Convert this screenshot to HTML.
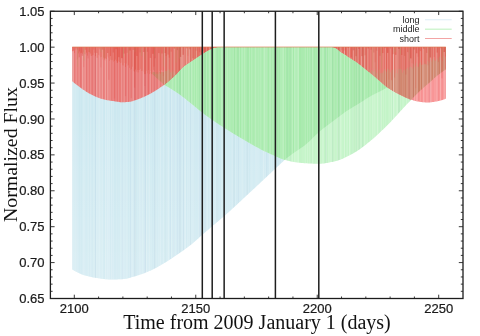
<!DOCTYPE html>
<html><head><meta charset="utf-8"><title>chart</title>
<style>html,body{margin:0;padding:0;background:#fff}svg{display:block}</style>
</head><body>
<svg width="480" height="336" viewBox="0 0 480 336">
<defs>
<clipPath id="cR"><path d="M72.25 47.0 L72.25 81.25 L73.25 82.09 L74.25 82.93 L75.25 83.74 L76.25 84.54 L77.25 85.32 L78.25 86.07 L79.25 86.80 L80.25 87.52 L81.25 88.24 L82.25 88.96 L83.25 89.66 L84.25 90.35 L85.25 91.02 L86.25 91.67 L87.25 92.30 L88.25 92.90 L89.25 93.48 L90.25 94.02 L91.25 94.52 L92.25 95.02 L93.25 95.50 L94.25 95.97 L95.25 96.43 L96.25 96.88 L97.25 97.30 L98.25 97.71 L99.25 98.09 L100.25 98.45 L101.25 98.78 L102.25 99.08 L103.25 99.34 L104.25 99.57 L105.25 99.79 L106.25 99.99 L107.25 100.18 L108.25 100.36 L109.25 100.52 L110.25 100.68 L111.25 100.83 L112.25 100.98 L113.25 101.12 L114.25 101.26 L115.25 101.40 L116.25 101.54 L117.25 101.69 L118.25 101.85 L119.25 102.00 L120.25 102.13 L121.25 102.22 L122.25 102.25 L123.25 102.24 L124.25 102.20 L125.25 102.15 L126.25 102.08 L127.25 102.01 L128.25 101.92 L129.25 101.82 L130.25 101.66 L131.25 101.46 L132.25 101.21 L133.25 100.93 L134.25 100.62 L135.25 100.28 L136.25 99.92 L137.25 99.54 L138.25 99.16 L139.25 98.77 L140.25 98.39 L141.25 98.00 L142.25 97.61 L143.25 97.19 L144.25 96.75 L145.25 96.29 L146.25 95.81 L147.25 95.31 L148.25 94.79 L149.25 94.27 L150.25 93.73 L151.25 93.17 L152.25 92.61 L153.25 92.04 L154.25 91.46 L155.25 90.86 L156.25 90.24 L157.25 89.60 L158.25 88.94 L159.25 88.26 L160.25 87.57 L161.25 86.86 L162.25 86.13 L163.25 85.39 L164.25 84.64 L165.25 83.86 L166.25 83.07 L167.25 82.26 L168.25 81.43 L169.25 80.58 L170.25 79.71 L171.25 78.82 L172.25 77.92 L173.25 77.00 L174.25 76.07 L175.25 75.12 L176.25 74.15 L177.25 73.11 L178.25 72.00 L179.25 70.87 L180.25 69.75 L181.25 68.68 L182.25 67.72 L183.25 66.87 L184.25 66.06 L185.25 65.29 L186.25 64.56 L187.25 63.86 L188.25 63.18 L189.25 62.51 L190.25 61.86 L191.25 61.21 L192.25 60.57 L193.25 59.92 L194.25 59.26 L195.25 58.58 L196.25 57.90 L197.25 57.21 L198.25 56.53 L199.25 55.85 L200.25 55.19 L201.25 54.54 L202.25 53.90 L203.25 53.28 L204.25 52.65 L205.25 52.01 L206.25 51.38 L207.25 50.78 L208.25 50.20 L209.25 49.66 L210.25 49.17 L211.25 48.75 L212.25 48.37 L213.25 48.02 L214.25 47.70 L215.25 47.41 L216.25 47.16 L217.00 47.00 Z M332.50 47.0 L332.50 47.00 L333.50 47.26 L334.50 47.63 L335.50 48.08 L336.50 48.59 L337.50 49.22 L338.50 50.05 L339.50 50.95 L340.50 51.78 L341.50 52.46 L342.50 53.05 L343.50 53.61 L344.50 54.19 L345.50 54.83 L346.50 55.52 L347.50 56.23 L348.50 56.93 L349.50 57.59 L350.50 58.20 L351.50 58.80 L352.50 59.40 L353.50 60.03 L354.50 60.69 L355.50 61.37 L356.50 62.08 L357.50 62.80 L358.50 63.54 L359.50 64.30 L360.50 65.07 L361.50 65.85 L362.50 66.64 L363.50 67.44 L364.50 68.26 L365.50 69.07 L366.50 69.89 L367.50 70.72 L368.50 71.55 L369.50 72.37 L370.50 73.20 L371.50 74.02 L372.50 74.84 L373.50 75.66 L374.50 76.50 L375.50 77.35 L376.50 78.22 L377.50 79.10 L378.50 79.98 L379.50 80.86 L380.50 81.74 L381.50 82.61 L382.50 83.47 L383.50 84.31 L384.50 85.13 L385.50 85.94 L386.50 86.71 L387.50 87.45 L388.50 88.16 L389.50 88.83 L390.50 89.47 L391.50 90.10 L392.50 90.70 L393.50 91.29 L394.50 91.87 L395.50 92.43 L396.50 92.97 L397.50 93.50 L398.50 94.02 L399.50 94.53 L400.50 95.03 L401.50 95.52 L402.50 96.00 L403.50 96.48 L404.50 96.96 L405.50 97.44 L406.50 97.90 L407.50 98.35 L408.50 98.77 L409.50 99.16 L410.50 99.51 L411.50 99.82 L412.50 100.12 L413.50 100.40 L414.50 100.67 L415.50 100.92 L416.50 101.16 L417.50 101.38 L418.50 101.58 L419.50 101.76 L420.50 101.91 L421.50 102.03 L422.50 102.14 L423.50 102.25 L424.50 102.35 L425.50 102.43 L426.50 102.48 L427.50 102.50 L428.50 102.48 L429.50 102.43 L430.50 102.34 L431.50 102.23 L432.50 102.10 L433.50 101.95 L434.50 101.78 L435.50 101.61 L436.50 101.43 L437.50 101.25 L438.50 101.05 L439.50 100.82 L440.50 100.55 L441.50 100.26 L442.50 99.94 L443.50 99.60 L444.50 99.24 L445.50 98.86 L445.80 98.75 L445.8 47.0 Z"/></clipPath>
<clipPath id="cB"><path d="M72.25 47.0 L72.25 269.50 L73.25 270.09 L74.25 270.67 L75.25 271.24 L76.25 271.78 L77.25 272.31 L78.25 272.81 L79.25 273.29 L80.25 273.75 L81.25 274.18 L82.25 274.57 L83.25 274.94 L84.25 275.27 L85.25 275.57 L86.25 275.85 L87.25 276.12 L88.25 276.37 L89.25 276.61 L90.25 276.83 L91.25 277.05 L92.25 277.25 L93.25 277.44 L94.25 277.62 L95.25 277.79 L96.25 277.95 L97.25 278.10 L98.25 278.23 L99.25 278.37 L100.25 278.51 L101.25 278.65 L102.25 278.79 L103.25 278.92 L104.25 279.04 L105.25 279.15 L106.25 279.25 L107.25 279.34 L108.25 279.41 L109.25 279.46 L110.25 279.49 L111.25 279.50 L112.25 279.49 L113.25 279.48 L114.25 279.47 L115.25 279.44 L116.25 279.41 L117.25 279.38 L118.25 279.34 L119.25 279.30 L120.25 279.25 L121.25 279.20 L122.25 279.14 L123.25 279.08 L124.25 278.99 L125.25 278.85 L126.25 278.67 L127.25 278.45 L128.25 278.21 L129.25 277.95 L130.25 277.66 L131.25 277.37 L132.25 277.07 L133.25 276.77 L134.25 276.47 L135.25 276.18 L136.25 275.88 L137.25 275.58 L138.25 275.27 L139.25 274.94 L140.25 274.60 L141.25 274.26 L142.25 273.90 L143.25 273.53 L144.25 273.15 L145.25 272.77 L146.25 272.37 L147.25 271.96 L148.25 271.55 L149.25 271.12 L150.25 270.69 L151.25 270.24 L152.25 269.77 L153.25 269.28 L154.25 268.77 L155.25 268.25 L156.25 267.71 L157.25 267.16 L158.25 266.60 L159.25 266.03 L160.25 265.45 L161.25 264.86 L162.25 264.28 L163.25 263.68 L164.25 263.09 L165.25 262.49 L166.25 261.88 L167.25 261.25 L168.25 260.61 L169.25 259.97 L170.25 259.31 L171.25 258.65 L172.25 257.98 L173.25 257.30 L174.25 256.62 L175.25 255.94 L176.25 255.26 L177.25 254.57 L178.25 253.89 L179.25 253.20 L180.25 252.51 L181.25 251.82 L182.25 251.13 L183.25 250.43 L184.25 249.73 L185.25 249.01 L186.25 248.29 L187.25 247.56 L188.25 246.81 L189.25 246.05 L190.25 245.28 L191.25 244.48 L192.25 243.66 L193.25 242.82 L194.25 241.96 L195.25 241.08 L196.25 240.19 L197.25 239.29 L198.25 238.39 L199.25 237.49 L200.25 236.60 L201.25 235.71 L202.25 234.83 L203.25 233.96 L204.25 233.10 L205.25 232.23 L206.25 231.37 L207.25 230.50 L208.25 229.64 L209.25 228.78 L210.25 227.92 L211.25 227.06 L212.25 226.21 L213.25 225.36 L214.25 224.51 L215.25 223.67 L216.25 222.83 L217.25 221.99 L218.25 221.15 L219.25 220.31 L220.25 219.47 L221.25 218.62 L222.25 217.77 L223.25 216.90 L224.25 216.03 L225.25 215.15 L226.25 214.26 L227.25 213.37 L228.25 212.47 L229.25 211.57 L230.25 210.66 L231.25 209.75 L232.25 208.83 L233.25 207.91 L234.25 206.99 L235.25 206.06 L236.25 205.13 L237.25 204.20 L238.25 203.27 L239.25 202.34 L240.25 201.41 L241.25 200.48 L242.25 199.55 L243.25 198.62 L244.25 197.69 L245.25 196.77 L246.25 195.84 L247.25 194.91 L248.25 193.98 L249.25 193.05 L250.25 192.12 L251.25 191.19 L252.25 190.25 L253.25 189.32 L254.25 188.38 L255.25 187.45 L256.25 186.51 L257.25 185.57 L258.25 184.63 L259.25 183.70 L260.25 182.76 L261.25 181.82 L262.25 180.88 L263.25 179.94 L264.25 179.01 L265.25 178.07 L266.25 177.13 L267.25 176.20 L268.25 175.26 L269.25 174.33 L270.25 173.39 L271.25 172.46 L272.25 171.53 L273.25 170.60 L274.25 169.68 L275.25 168.75 L276.25 167.82 L277.25 166.87 L278.25 165.92 L279.25 164.97 L280.25 164.02 L281.25 163.07 L282.25 162.13 L283.25 161.20 L284.25 160.29 L285.25 159.40 L286.25 158.54 L287.25 157.70 L288.25 156.90 L289.25 156.13 L290.25 155.38 L291.25 154.66 L292.25 153.95 L293.25 153.26 L294.25 152.58 L295.25 151.91 L296.25 151.25 L297.25 150.59 L298.25 149.92 L299.25 149.25 L300.25 148.57 L301.25 147.87 L302.25 147.16 L303.25 146.44 L304.25 145.68 L305.25 144.90 L306.25 144.09 L307.25 143.24 L308.25 142.35 L309.25 141.42 L310.25 140.46 L311.25 139.49 L312.25 138.50 L313.25 137.51 L314.25 136.52 L315.25 135.53 L316.25 134.57 L317.25 133.63 L318.25 132.72 L319.25 131.84 L320.25 131.00 L321.25 130.17 L322.25 129.36 L323.25 128.56 L324.25 127.78 L325.25 127.00 L326.25 126.23 L327.25 125.47 L328.25 124.72 L329.25 123.97 L330.25 123.23 L331.25 122.49 L332.25 121.75 L333.25 121.01 L334.25 120.28 L335.25 119.53 L336.25 118.79 L337.25 118.04 L338.25 117.28 L339.25 116.52 L340.25 115.75 L341.25 114.98 L342.25 114.22 L343.25 113.47 L344.25 112.73 L345.25 112.02 L346.25 111.33 L347.25 110.67 L348.25 110.02 L349.25 109.39 L350.25 108.77 L351.25 108.16 L352.25 107.56 L353.25 106.96 L354.25 106.36 L355.25 105.77 L356.25 105.17 L357.25 104.57 L358.25 103.95 L359.25 103.33 L360.25 102.70 L361.25 102.06 L362.25 101.42 L363.25 100.78 L364.25 100.14 L365.25 99.50 L366.25 98.86 L367.25 98.24 L368.25 97.62 L369.25 97.02 L370.25 96.43 L371.25 95.86 L372.25 95.30 L373.25 94.75 L374.25 94.22 L375.25 93.69 L376.25 93.17 L377.25 92.66 L378.25 92.15 L379.25 91.64 L380.25 91.14 L381.25 90.64 L382.25 90.13 L383.25 89.63 L384.25 89.12 L385.25 88.62 L386.25 88.12 L387.25 87.62 L388.25 87.12 L389.25 86.63 L390.25 86.13 L391.25 85.63 L392.25 85.14 L393.25 84.64 L394.25 84.15 L395.25 83.66 L396.25 83.16 L397.25 82.67 L398.25 82.18 L399.25 81.69 L400.25 81.20 L401.25 80.71 L402.25 80.22 L403.25 79.73 L404.25 79.24 L405.25 78.74 L406.25 78.25 L407.25 77.75 L408.25 77.25 L409.25 76.75 L410.25 76.25 L411.25 75.76 L412.25 75.27 L413.25 74.78 L414.25 74.30 L415.25 73.83 L416.25 73.36 L417.25 72.91 L418.25 72.46 L419.25 72.02 L420.25 71.59 L421.25 71.17 L422.25 70.76 L423.25 70.35 L424.25 69.95 L425.25 69.56 L426.25 69.17 L427.25 68.78 L428.25 68.40 L429.25 68.02 L430.25 67.64 L431.25 67.26 L432.25 66.89 L433.25 66.52 L434.25 66.15 L435.25 65.78 L436.25 65.41 L437.25 65.04 L438.25 64.67 L439.25 64.31 L440.25 63.95 L441.25 63.59 L442.25 63.24 L443.25 62.89 L444.25 62.54 L445.25 62.19 L445.80 62.00 L445.8 47.0 Z"/></clipPath>
<clipPath id="cG"><path d="M164.10 47.0 L164.10 84.75 L165.10 85.31 L166.10 85.87 L167.10 86.44 L168.10 87.02 L169.10 87.60 L170.10 88.19 L171.10 88.79 L172.10 89.41 L173.10 90.03 L174.10 90.66 L175.10 91.31 L176.10 91.97 L177.10 92.64 L178.10 93.33 L179.10 94.04 L180.10 94.76 L181.10 95.50 L182.10 96.25 L183.10 97.01 L184.10 97.78 L185.10 98.56 L186.10 99.35 L187.10 100.14 L188.10 100.95 L189.10 101.76 L190.10 102.57 L191.10 103.39 L192.10 104.21 L193.10 105.03 L194.10 105.85 L195.10 106.68 L196.10 107.50 L197.10 108.32 L198.10 109.13 L199.10 109.94 L200.10 110.74 L201.10 111.54 L202.10 112.33 L203.10 113.12 L204.10 113.89 L205.10 114.65 L206.10 115.40 L207.10 116.14 L208.10 116.86 L209.10 117.57 L210.10 118.27 L211.10 118.97 L212.10 119.66 L213.10 120.35 L214.10 121.03 L215.10 121.71 L216.10 122.38 L217.10 123.05 L218.10 123.72 L219.10 124.38 L220.10 125.04 L221.10 125.70 L222.10 126.35 L223.10 126.99 L224.10 127.64 L225.10 128.28 L226.10 128.91 L227.10 129.54 L228.10 130.17 L229.10 130.80 L230.10 131.42 L231.10 132.04 L232.10 132.66 L233.10 133.27 L234.10 133.88 L235.10 134.48 L236.10 135.08 L237.10 135.68 L238.10 136.28 L239.10 136.88 L240.10 137.47 L241.10 138.07 L242.10 138.66 L243.10 139.26 L244.10 139.85 L245.10 140.44 L246.10 141.03 L247.10 141.62 L248.10 142.21 L249.10 142.79 L250.10 143.37 L251.10 143.94 L252.10 144.51 L253.10 145.08 L254.10 145.64 L255.10 146.20 L256.10 146.75 L257.10 147.29 L258.10 147.83 L259.10 148.36 L260.10 148.89 L261.10 149.40 L262.10 149.91 L263.10 150.41 L264.10 150.90 L265.10 151.38 L266.10 151.86 L267.10 152.32 L268.10 152.77 L269.10 153.23 L270.10 153.69 L271.10 154.16 L272.10 154.62 L273.10 155.09 L274.10 155.55 L275.10 156.00 L276.10 156.45 L277.10 156.90 L278.10 157.33 L279.10 157.75 L280.10 158.17 L281.10 158.56 L282.10 158.95 L283.10 159.31 L284.10 159.66 L285.10 159.99 L286.10 160.29 L287.10 160.58 L288.10 160.83 L289.10 161.07 L290.10 161.27 L291.10 161.46 L292.10 161.64 L293.10 161.82 L294.10 161.99 L295.10 162.15 L296.10 162.30 L297.10 162.45 L298.10 162.59 L299.10 162.71 L300.10 162.83 L301.10 162.94 L302.10 163.03 L303.10 163.12 L304.10 163.19 L305.10 163.26 L306.10 163.31 L307.10 163.37 L308.10 163.42 L309.10 163.47 L310.10 163.52 L311.10 163.56 L312.10 163.61 L313.10 163.64 L314.10 163.68 L315.10 163.70 L316.10 163.72 L317.10 163.74 L318.10 163.75 L319.10 163.75 L320.10 163.72 L321.10 163.67 L322.10 163.60 L323.10 163.50 L324.10 163.38 L325.10 163.24 L326.10 163.09 L327.10 162.92 L328.10 162.73 L329.10 162.54 L330.10 162.33 L331.10 162.12 L332.10 161.90 L333.10 161.68 L334.10 161.45 L335.10 161.23 L336.10 160.98 L337.10 160.70 L338.10 160.40 L339.10 160.06 L340.10 159.70 L341.10 159.31 L342.10 158.90 L343.10 158.47 L344.10 158.02 L345.10 157.55 L346.10 157.07 L347.10 156.58 L348.10 156.07 L349.10 155.55 L350.10 155.03 L351.10 154.50 L352.10 153.96 L353.10 153.42 L354.10 152.86 L355.10 152.26 L356.10 151.64 L357.10 150.99 L358.10 150.33 L359.10 149.64 L360.10 148.93 L361.10 148.21 L362.10 147.47 L363.10 146.71 L364.10 145.94 L365.10 145.17 L366.10 144.38 L367.10 143.58 L368.10 142.78 L369.10 141.98 L370.10 141.17 L371.10 140.35 L372.10 139.51 L373.10 138.66 L374.10 137.79 L375.10 136.90 L376.10 136.00 L377.10 135.09 L378.10 134.17 L379.10 133.23 L380.10 132.28 L381.10 131.32 L382.10 130.36 L383.10 129.38 L384.10 128.40 L385.10 127.41 L386.10 126.42 L387.10 125.42 L388.10 124.41 L389.10 123.41 L390.10 122.40 L391.10 121.38 L392.10 120.33 L393.10 119.28 L394.10 118.20 L395.10 117.11 L396.10 116.02 L397.10 114.91 L398.10 113.80 L399.10 112.69 L400.10 111.59 L401.10 110.48 L402.10 109.38 L403.10 108.29 L404.10 107.21 L405.10 106.14 L406.10 105.09 L407.10 104.04 L408.10 102.99 L409.10 101.95 L410.10 100.92 L411.10 99.90 L412.10 98.87 L413.10 97.85 L414.10 96.82 L415.10 95.80 L416.10 94.79 L417.10 93.78 L418.10 92.78 L419.10 91.80 L420.10 90.84 L421.10 89.89 L422.10 88.97 L423.10 88.06 L424.10 87.18 L425.10 86.31 L426.10 85.45 L427.10 84.60 L428.10 83.74 L429.10 82.88 L430.10 82.01 L431.10 81.13 L432.10 80.23 L433.10 79.30 L434.10 78.37 L435.10 77.47 L436.10 76.62 L437.10 75.80 L438.10 75.00 L439.10 74.22 L440.10 73.45 L441.10 72.71 L442.10 71.98 L443.10 71.27 L444.10 70.59 L445.10 69.94 L445.80 69.50 L445.8 47.0 Z"/></clipPath>
<clipPath id="cD"><path d="M72.25 47.0 L72.25 269.50 L73.25 270.09 L74.25 270.67 L75.25 271.24 L76.25 271.78 L77.25 272.31 L78.25 272.81 L79.25 273.29 L80.25 273.75 L81.25 274.18 L82.25 274.57 L83.25 274.94 L84.25 275.27 L85.25 275.57 L86.25 275.85 L87.25 276.12 L88.25 276.37 L89.25 276.61 L90.25 276.83 L91.25 277.05 L92.25 277.25 L93.25 277.44 L94.25 277.62 L95.25 277.79 L96.25 277.95 L97.25 278.10 L98.25 278.23 L99.25 278.37 L100.25 278.51 L101.25 278.65 L102.25 278.79 L103.25 278.92 L104.25 279.04 L105.25 279.15 L106.25 279.25 L107.25 279.34 L108.25 279.41 L109.25 279.46 L110.25 279.49 L111.25 279.50 L112.25 279.49 L113.25 279.48 L114.25 279.47 L115.25 279.44 L116.25 279.41 L117.25 279.38 L118.25 279.34 L119.25 279.30 L120.25 279.25 L121.25 279.20 L122.25 279.14 L123.25 279.08 L124.25 278.99 L125.25 278.85 L126.25 278.67 L127.25 278.45 L128.25 278.21 L129.25 277.95 L130.25 277.66 L131.25 277.37 L132.25 277.07 L133.25 276.77 L134.25 276.47 L135.25 276.18 L136.25 275.88 L137.25 275.58 L138.25 275.27 L139.25 274.94 L140.25 274.60 L141.25 274.26 L142.25 273.90 L143.25 273.53 L144.25 273.15 L145.25 272.77 L146.25 272.37 L147.25 271.96 L148.25 271.55 L149.25 271.12 L150.25 270.69 L151.25 270.24 L152.25 269.77 L153.25 269.28 L154.25 268.77 L155.25 268.25 L156.25 267.71 L157.25 267.16 L158.25 266.60 L159.25 266.03 L160.25 265.45 L161.25 264.86 L162.25 264.28 L163.25 263.68 L164.25 263.09 L165.25 262.49 L166.25 261.88 L167.25 261.25 L168.25 260.61 L169.25 259.97 L170.25 259.31 L171.25 258.65 L172.25 257.98 L173.25 257.30 L174.25 256.62 L175.25 255.94 L176.25 255.26 L177.25 254.57 L178.25 253.89 L179.25 253.20 L180.25 252.51 L181.25 251.82 L182.25 251.13 L183.25 250.43 L184.25 249.73 L185.25 249.01 L186.25 248.29 L187.25 247.56 L188.25 246.81 L189.25 246.05 L190.25 245.28 L191.25 244.48 L192.25 243.66 L193.25 242.82 L194.25 241.96 L195.25 241.08 L196.25 240.19 L197.25 239.29 L198.25 238.39 L199.25 237.49 L200.25 236.60 L201.25 235.71 L202.25 234.83 L203.25 233.96 L204.25 233.10 L205.25 232.23 L206.25 231.37 L207.25 230.50 L208.25 229.64 L209.25 228.78 L210.25 227.92 L211.25 227.06 L212.25 226.21 L213.25 225.36 L214.25 224.51 L215.25 223.67 L216.25 222.83 L217.25 221.99 L218.25 221.15 L219.25 220.31 L220.25 219.47 L221.25 218.62 L222.25 217.77 L223.25 216.90 L224.25 216.03 L225.25 215.15 L226.25 214.26 L227.25 213.37 L228.25 212.47 L229.25 211.57 L230.25 210.66 L231.25 209.75 L232.25 208.83 L233.25 207.91 L234.25 206.99 L235.25 206.06 L236.25 205.13 L237.25 204.20 L238.25 203.27 L239.25 202.34 L240.25 201.41 L241.25 200.48 L242.25 199.55 L243.25 198.62 L244.25 197.69 L245.25 196.77 L246.25 195.84 L247.25 194.91 L248.25 193.98 L249.25 193.05 L250.25 192.12 L251.25 191.19 L252.25 190.25 L253.25 189.32 L254.25 188.38 L255.25 187.45 L256.25 186.51 L257.25 185.57 L258.25 184.63 L259.25 183.70 L260.25 182.76 L261.25 181.82 L262.25 180.88 L263.25 179.94 L264.25 179.01 L265.25 178.07 L266.25 177.13 L267.25 176.20 L268.25 175.26 L269.25 174.33 L270.25 173.39 L271.25 172.46 L272.25 171.53 L273.25 170.60 L274.25 169.68 L275.25 168.75 L276.25 167.82 L277.25 166.87 L278.25 165.92 L279.25 164.97 L280.25 164.02 L281.25 163.07 L282.25 162.13 L283.25 161.20 L284.25 160.29 L285.25 159.40 L286.25 158.54 L287.25 157.70 L288.25 156.90 L289.25 156.13 L290.25 155.38 L291.25 154.66 L292.25 153.95 L293.25 153.26 L294.25 152.58 L295.25 151.91 L296.25 151.25 L297.25 150.59 L298.25 149.92 L299.25 149.25 L300.25 148.57 L301.25 147.87 L302.25 147.16 L303.25 146.44 L304.25 145.68 L305.25 144.90 L306.25 144.09 L307.25 143.24 L308.25 142.35 L309.25 141.42 L310.25 140.46 L311.25 139.49 L312.25 138.50 L313.25 137.51 L314.25 136.52 L315.25 135.53 L316.25 134.57 L317.25 133.63 L318.25 132.72 L319.25 131.84 L320.25 131.00 L321.25 130.17 L322.25 129.36 L323.25 128.56 L324.25 127.78 L325.25 127.00 L326.25 126.23 L327.25 125.47 L328.25 124.72 L329.25 123.97 L330.25 123.23 L331.25 122.49 L332.25 121.75 L333.25 121.01 L334.25 120.28 L335.25 119.53 L336.25 118.79 L337.25 118.04 L338.25 117.28 L339.25 116.52 L340.25 115.75 L341.25 114.98 L342.25 114.22 L343.25 113.47 L344.25 112.73 L345.25 112.02 L346.25 111.33 L347.25 110.67 L348.25 110.02 L349.25 109.39 L350.25 108.77 L351.25 108.16 L352.25 107.56 L353.25 106.96 L354.25 106.36 L355.25 105.77 L356.25 105.17 L357.25 104.57 L358.25 103.95 L359.25 103.33 L360.25 102.70 L361.25 102.06 L362.25 101.42 L363.25 100.78 L364.25 100.14 L365.25 99.50 L366.25 98.86 L367.25 98.24 L368.25 97.62 L369.25 97.02 L370.25 96.43 L371.25 95.86 L372.25 95.30 L373.25 94.75 L374.25 94.22 L375.25 93.69 L376.25 93.17 L377.25 92.66 L378.25 92.15 L379.25 91.64 L380.25 91.14 L381.25 90.64 L382.25 90.13 L383.25 89.63 L384.25 89.12 L385.25 88.62 L386.25 88.12 L387.25 87.62 L388.25 87.12 L389.25 86.63 L390.25 86.13 L391.25 85.63 L392.25 85.14 L393.25 84.64 L394.25 84.15 L395.25 83.66 L396.25 83.16 L397.25 82.67 L398.25 82.18 L399.25 81.69 L400.25 81.20 L401.25 80.71 L402.25 80.22 L403.25 79.73 L404.25 79.24 L405.25 78.74 L406.25 78.25 L407.25 77.75 L408.25 77.25 L409.25 76.75 L410.25 76.25 L411.25 75.76 L412.25 75.27 L413.25 74.78 L414.25 74.30 L415.25 73.83 L416.25 73.36 L417.25 72.91 L418.25 72.46 L419.25 72.02 L420.25 71.59 L421.25 71.17 L422.25 70.76 L423.25 70.35 L424.25 69.95 L425.25 69.56 L426.25 69.17 L427.25 68.78 L428.25 68.40 L429.25 68.02 L430.25 67.64 L431.25 67.26 L432.25 66.89 L433.25 66.52 L434.25 66.15 L435.25 65.78 L436.25 65.41 L437.25 65.04 L438.25 64.67 L439.25 64.31 L440.25 63.95 L441.25 63.59 L442.25 63.24 L443.25 62.89 L444.25 62.54 L445.25 62.19 L445.80 62.00 L445.8 47.0 Z M164.10 47.0 L164.10 84.75 L165.10 85.31 L166.10 85.87 L167.10 86.44 L168.10 87.02 L169.10 87.60 L170.10 88.19 L171.10 88.79 L172.10 89.41 L173.10 90.03 L174.10 90.66 L175.10 91.31 L176.10 91.97 L177.10 92.64 L178.10 93.33 L179.10 94.04 L180.10 94.76 L181.10 95.50 L182.10 96.25 L183.10 97.01 L184.10 97.78 L185.10 98.56 L186.10 99.35 L187.10 100.14 L188.10 100.95 L189.10 101.76 L190.10 102.57 L191.10 103.39 L192.10 104.21 L193.10 105.03 L194.10 105.85 L195.10 106.68 L196.10 107.50 L197.10 108.32 L198.10 109.13 L199.10 109.94 L200.10 110.74 L201.10 111.54 L202.10 112.33 L203.10 113.12 L204.10 113.89 L205.10 114.65 L206.10 115.40 L207.10 116.14 L208.10 116.86 L209.10 117.57 L210.10 118.27 L211.10 118.97 L212.10 119.66 L213.10 120.35 L214.10 121.03 L215.10 121.71 L216.10 122.38 L217.10 123.05 L218.10 123.72 L219.10 124.38 L220.10 125.04 L221.10 125.70 L222.10 126.35 L223.10 126.99 L224.10 127.64 L225.10 128.28 L226.10 128.91 L227.10 129.54 L228.10 130.17 L229.10 130.80 L230.10 131.42 L231.10 132.04 L232.10 132.66 L233.10 133.27 L234.10 133.88 L235.10 134.48 L236.10 135.08 L237.10 135.68 L238.10 136.28 L239.10 136.88 L240.10 137.47 L241.10 138.07 L242.10 138.66 L243.10 139.26 L244.10 139.85 L245.10 140.44 L246.10 141.03 L247.10 141.62 L248.10 142.21 L249.10 142.79 L250.10 143.37 L251.10 143.94 L252.10 144.51 L253.10 145.08 L254.10 145.64 L255.10 146.20 L256.10 146.75 L257.10 147.29 L258.10 147.83 L259.10 148.36 L260.10 148.89 L261.10 149.40 L262.10 149.91 L263.10 150.41 L264.10 150.90 L265.10 151.38 L266.10 151.86 L267.10 152.32 L268.10 152.77 L269.10 153.23 L270.10 153.69 L271.10 154.16 L272.10 154.62 L273.10 155.09 L274.10 155.55 L275.10 156.00 L276.10 156.45 L277.10 156.90 L278.10 157.33 L279.10 157.75 L280.10 158.17 L281.10 158.56 L282.10 158.95 L283.10 159.31 L284.10 159.66 L285.10 159.99 L286.10 160.29 L287.10 160.58 L288.10 160.83 L289.10 161.07 L290.10 161.27 L291.10 161.46 L292.10 161.64 L293.10 161.82 L294.10 161.99 L295.10 162.15 L296.10 162.30 L297.10 162.45 L298.10 162.59 L299.10 162.71 L300.10 162.83 L301.10 162.94 L302.10 163.03 L303.10 163.12 L304.10 163.19 L305.10 163.26 L306.10 163.31 L307.10 163.37 L308.10 163.42 L309.10 163.47 L310.10 163.52 L311.10 163.56 L312.10 163.61 L313.10 163.64 L314.10 163.68 L315.10 163.70 L316.10 163.72 L317.10 163.74 L318.10 163.75 L319.10 163.75 L320.10 163.72 L321.10 163.67 L322.10 163.60 L323.10 163.50 L324.10 163.38 L325.10 163.24 L326.10 163.09 L327.10 162.92 L328.10 162.73 L329.10 162.54 L330.10 162.33 L331.10 162.12 L332.10 161.90 L333.10 161.68 L334.10 161.45 L335.10 161.23 L336.10 160.98 L337.10 160.70 L338.10 160.40 L339.10 160.06 L340.10 159.70 L341.10 159.31 L342.10 158.90 L343.10 158.47 L344.10 158.02 L345.10 157.55 L346.10 157.07 L347.10 156.58 L348.10 156.07 L349.10 155.55 L350.10 155.03 L351.10 154.50 L352.10 153.96 L353.10 153.42 L354.10 152.86 L355.10 152.26 L356.10 151.64 L357.10 150.99 L358.10 150.33 L359.10 149.64 L360.10 148.93 L361.10 148.21 L362.10 147.47 L363.10 146.71 L364.10 145.94 L365.10 145.17 L366.10 144.38 L367.10 143.58 L368.10 142.78 L369.10 141.98 L370.10 141.17 L371.10 140.35 L372.10 139.51 L373.10 138.66 L374.10 137.79 L375.10 136.90 L376.10 136.00 L377.10 135.09 L378.10 134.17 L379.10 133.23 L380.10 132.28 L381.10 131.32 L382.10 130.36 L383.10 129.38 L384.10 128.40 L385.10 127.41 L386.10 126.42 L387.10 125.42 L388.10 124.41 L389.10 123.41 L390.10 122.40 L391.10 121.38 L392.10 120.33 L393.10 119.28 L394.10 118.20 L395.10 117.11 L396.10 116.02 L397.10 114.91 L398.10 113.80 L399.10 112.69 L400.10 111.59 L401.10 110.48 L402.10 109.38 L403.10 108.29 L404.10 107.21 L405.10 106.14 L406.10 105.09 L407.10 104.04 L408.10 102.99 L409.10 101.95 L410.10 100.92 L411.10 99.90 L412.10 98.87 L413.10 97.85 L414.10 96.82 L415.10 95.80 L416.10 94.79 L417.10 93.78 L418.10 92.78 L419.10 91.80 L420.10 90.84 L421.10 89.89 L422.10 88.97 L423.10 88.06 L424.10 87.18 L425.10 86.31 L426.10 85.45 L427.10 84.60 L428.10 83.74 L429.10 82.88 L430.10 82.01 L431.10 81.13 L432.10 80.23 L433.10 79.30 L434.10 78.37 L435.10 77.47 L436.10 76.62 L437.10 75.80 L438.10 75.00 L439.10 74.22 L440.10 73.45 L441.10 72.71 L442.10 71.98 L443.10 71.27 L444.10 70.59 L445.10 69.94 L445.80 69.50 L445.8 47.0 Z M72.25 47.0 L72.25 81.25 L73.25 82.09 L74.25 82.93 L75.25 83.74 L76.25 84.54 L77.25 85.32 L78.25 86.07 L79.25 86.80 L80.25 87.52 L81.25 88.24 L82.25 88.96 L83.25 89.66 L84.25 90.35 L85.25 91.02 L86.25 91.67 L87.25 92.30 L88.25 92.90 L89.25 93.48 L90.25 94.02 L91.25 94.52 L92.25 95.02 L93.25 95.50 L94.25 95.97 L95.25 96.43 L96.25 96.88 L97.25 97.30 L98.25 97.71 L99.25 98.09 L100.25 98.45 L101.25 98.78 L102.25 99.08 L103.25 99.34 L104.25 99.57 L105.25 99.79 L106.25 99.99 L107.25 100.18 L108.25 100.36 L109.25 100.52 L110.25 100.68 L111.25 100.83 L112.25 100.98 L113.25 101.12 L114.25 101.26 L115.25 101.40 L116.25 101.54 L117.25 101.69 L118.25 101.85 L119.25 102.00 L120.25 102.13 L121.25 102.22 L122.25 102.25 L123.25 102.24 L124.25 102.20 L125.25 102.15 L126.25 102.08 L127.25 102.01 L128.25 101.92 L129.25 101.82 L130.25 101.66 L131.25 101.46 L132.25 101.21 L133.25 100.93 L134.25 100.62 L135.25 100.28 L136.25 99.92 L137.25 99.54 L138.25 99.16 L139.25 98.77 L140.25 98.39 L141.25 98.00 L142.25 97.61 L143.25 97.19 L144.25 96.75 L145.25 96.29 L146.25 95.81 L147.25 95.31 L148.25 94.79 L149.25 94.27 L150.25 93.73 L151.25 93.17 L152.25 92.61 L153.25 92.04 L154.25 91.46 L155.25 90.86 L156.25 90.24 L157.25 89.60 L158.25 88.94 L159.25 88.26 L160.25 87.57 L161.25 86.86 L162.25 86.13 L163.25 85.39 L164.25 84.64 L165.25 83.86 L166.25 83.07 L167.25 82.26 L168.25 81.43 L169.25 80.58 L170.25 79.71 L171.25 78.82 L172.25 77.92 L173.25 77.00 L174.25 76.07 L175.25 75.12 L176.25 74.15 L177.25 73.11 L178.25 72.00 L179.25 70.87 L180.25 69.75 L181.25 68.68 L182.25 67.72 L183.25 66.87 L184.25 66.06 L185.25 65.29 L186.25 64.56 L187.25 63.86 L188.25 63.18 L189.25 62.51 L190.25 61.86 L191.25 61.21 L192.25 60.57 L193.25 59.92 L194.25 59.26 L195.25 58.58 L196.25 57.90 L197.25 57.21 L198.25 56.53 L199.25 55.85 L200.25 55.19 L201.25 54.54 L202.25 53.90 L203.25 53.28 L204.25 52.65 L205.25 52.01 L206.25 51.38 L207.25 50.78 L208.25 50.20 L209.25 49.66 L210.25 49.17 L211.25 48.75 L212.25 48.37 L213.25 48.02 L214.25 47.70 L215.25 47.41 L216.25 47.16 L217.00 47.00 Z M332.50 47.0 L332.50 47.00 L333.50 47.26 L334.50 47.63 L335.50 48.08 L336.50 48.59 L337.50 49.22 L338.50 50.05 L339.50 50.95 L340.50 51.78 L341.50 52.46 L342.50 53.05 L343.50 53.61 L344.50 54.19 L345.50 54.83 L346.50 55.52 L347.50 56.23 L348.50 56.93 L349.50 57.59 L350.50 58.20 L351.50 58.80 L352.50 59.40 L353.50 60.03 L354.50 60.69 L355.50 61.37 L356.50 62.08 L357.50 62.80 L358.50 63.54 L359.50 64.30 L360.50 65.07 L361.50 65.85 L362.50 66.64 L363.50 67.44 L364.50 68.26 L365.50 69.07 L366.50 69.89 L367.50 70.72 L368.50 71.55 L369.50 72.37 L370.50 73.20 L371.50 74.02 L372.50 74.84 L373.50 75.66 L374.50 76.50 L375.50 77.35 L376.50 78.22 L377.50 79.10 L378.50 79.98 L379.50 80.86 L380.50 81.74 L381.50 82.61 L382.50 83.47 L383.50 84.31 L384.50 85.13 L385.50 85.94 L386.50 86.71 L387.50 87.45 L388.50 88.16 L389.50 88.83 L390.50 89.47 L391.50 90.10 L392.50 90.70 L393.50 91.29 L394.50 91.87 L395.50 92.43 L396.50 92.97 L397.50 93.50 L398.50 94.02 L399.50 94.53 L400.50 95.03 L401.50 95.52 L402.50 96.00 L403.50 96.48 L404.50 96.96 L405.50 97.44 L406.50 97.90 L407.50 98.35 L408.50 98.77 L409.50 99.16 L410.50 99.51 L411.50 99.82 L412.50 100.12 L413.50 100.40 L414.50 100.67 L415.50 100.92 L416.50 101.16 L417.50 101.38 L418.50 101.58 L419.50 101.76 L420.50 101.91 L421.50 102.03 L422.50 102.14 L423.50 102.25 L424.50 102.35 L425.50 102.43 L426.50 102.48 L427.50 102.50 L428.50 102.48 L429.50 102.43 L430.50 102.34 L431.50 102.23 L432.50 102.10 L433.50 101.95 L434.50 101.78 L435.50 101.61 L436.50 101.43 L437.50 101.25 L438.50 101.05 L439.50 100.82 L440.50 100.55 L441.50 100.26 L442.50 99.94 L443.50 99.60 L444.50 99.24 L445.50 98.86 L445.80 98.75 L445.8 47.0 Z"/></clipPath>
<filter id="bl" x="-5%" y="-5%" width="110%" height="110%"><feGaussianBlur stdDeviation="0.55 0"/></filter>
<linearGradient id="bg" x1="0" y1="0" x2="0" y2="1"><stop offset="0" stop-color="#fff" stop-opacity="0"/><stop offset="1" stop-color="#fff" stop-opacity="0.2"/></linearGradient>
</defs>
<rect width="480" height="336" fill="#fff"/>
<path d="M72.25 47.0 L72.25 269.50 L73.25 270.09 L74.25 270.67 L75.25 271.24 L76.25 271.78 L77.25 272.31 L78.25 272.81 L79.25 273.29 L80.25 273.75 L81.25 274.18 L82.25 274.57 L83.25 274.94 L84.25 275.27 L85.25 275.57 L86.25 275.85 L87.25 276.12 L88.25 276.37 L89.25 276.61 L90.25 276.83 L91.25 277.05 L92.25 277.25 L93.25 277.44 L94.25 277.62 L95.25 277.79 L96.25 277.95 L97.25 278.10 L98.25 278.23 L99.25 278.37 L100.25 278.51 L101.25 278.65 L102.25 278.79 L103.25 278.92 L104.25 279.04 L105.25 279.15 L106.25 279.25 L107.25 279.34 L108.25 279.41 L109.25 279.46 L110.25 279.49 L111.25 279.50 L112.25 279.49 L113.25 279.48 L114.25 279.47 L115.25 279.44 L116.25 279.41 L117.25 279.38 L118.25 279.34 L119.25 279.30 L120.25 279.25 L121.25 279.20 L122.25 279.14 L123.25 279.08 L124.25 278.99 L125.25 278.85 L126.25 278.67 L127.25 278.45 L128.25 278.21 L129.25 277.95 L130.25 277.66 L131.25 277.37 L132.25 277.07 L133.25 276.77 L134.25 276.47 L135.25 276.18 L136.25 275.88 L137.25 275.58 L138.25 275.27 L139.25 274.94 L140.25 274.60 L141.25 274.26 L142.25 273.90 L143.25 273.53 L144.25 273.15 L145.25 272.77 L146.25 272.37 L147.25 271.96 L148.25 271.55 L149.25 271.12 L150.25 270.69 L151.25 270.24 L152.25 269.77 L153.25 269.28 L154.25 268.77 L155.25 268.25 L156.25 267.71 L157.25 267.16 L158.25 266.60 L159.25 266.03 L160.25 265.45 L161.25 264.86 L162.25 264.28 L163.25 263.68 L164.25 263.09 L165.25 262.49 L166.25 261.88 L167.25 261.25 L168.25 260.61 L169.25 259.97 L170.25 259.31 L171.25 258.65 L172.25 257.98 L173.25 257.30 L174.25 256.62 L175.25 255.94 L176.25 255.26 L177.25 254.57 L178.25 253.89 L179.25 253.20 L180.25 252.51 L181.25 251.82 L182.25 251.13 L183.25 250.43 L184.25 249.73 L185.25 249.01 L186.25 248.29 L187.25 247.56 L188.25 246.81 L189.25 246.05 L190.25 245.28 L191.25 244.48 L192.25 243.66 L193.25 242.82 L194.25 241.96 L195.25 241.08 L196.25 240.19 L197.25 239.29 L198.25 238.39 L199.25 237.49 L200.25 236.60 L201.25 235.71 L202.25 234.83 L203.25 233.96 L204.25 233.10 L205.25 232.23 L206.25 231.37 L207.25 230.50 L208.25 229.64 L209.25 228.78 L210.25 227.92 L211.25 227.06 L212.25 226.21 L213.25 225.36 L214.25 224.51 L215.25 223.67 L216.25 222.83 L217.25 221.99 L218.25 221.15 L219.25 220.31 L220.25 219.47 L221.25 218.62 L222.25 217.77 L223.25 216.90 L224.25 216.03 L225.25 215.15 L226.25 214.26 L227.25 213.37 L228.25 212.47 L229.25 211.57 L230.25 210.66 L231.25 209.75 L232.25 208.83 L233.25 207.91 L234.25 206.99 L235.25 206.06 L236.25 205.13 L237.25 204.20 L238.25 203.27 L239.25 202.34 L240.25 201.41 L241.25 200.48 L242.25 199.55 L243.25 198.62 L244.25 197.69 L245.25 196.77 L246.25 195.84 L247.25 194.91 L248.25 193.98 L249.25 193.05 L250.25 192.12 L251.25 191.19 L252.25 190.25 L253.25 189.32 L254.25 188.38 L255.25 187.45 L256.25 186.51 L257.25 185.57 L258.25 184.63 L259.25 183.70 L260.25 182.76 L261.25 181.82 L262.25 180.88 L263.25 179.94 L264.25 179.01 L265.25 178.07 L266.25 177.13 L267.25 176.20 L268.25 175.26 L269.25 174.33 L270.25 173.39 L271.25 172.46 L272.25 171.53 L273.25 170.60 L274.25 169.68 L275.25 168.75 L276.25 167.82 L277.25 166.87 L278.25 165.92 L279.25 164.97 L280.25 164.02 L281.25 163.07 L282.25 162.13 L283.25 161.20 L284.25 160.29 L285.25 159.40 L286.25 158.54 L287.25 157.70 L288.25 156.90 L289.25 156.13 L290.25 155.38 L291.25 154.66 L292.25 153.95 L293.25 153.26 L294.25 152.58 L295.25 151.91 L296.25 151.25 L297.25 150.59 L298.25 149.92 L299.25 149.25 L300.25 148.57 L301.25 147.87 L302.25 147.16 L303.25 146.44 L304.25 145.68 L305.25 144.90 L306.25 144.09 L307.25 143.24 L308.25 142.35 L309.25 141.42 L310.25 140.46 L311.25 139.49 L312.25 138.50 L313.25 137.51 L314.25 136.52 L315.25 135.53 L316.25 134.57 L317.25 133.63 L318.25 132.72 L319.25 131.84 L320.25 131.00 L321.25 130.17 L322.25 129.36 L323.25 128.56 L324.25 127.78 L325.25 127.00 L326.25 126.23 L327.25 125.47 L328.25 124.72 L329.25 123.97 L330.25 123.23 L331.25 122.49 L332.25 121.75 L333.25 121.01 L334.25 120.28 L335.25 119.53 L336.25 118.79 L337.25 118.04 L338.25 117.28 L339.25 116.52 L340.25 115.75 L341.25 114.98 L342.25 114.22 L343.25 113.47 L344.25 112.73 L345.25 112.02 L346.25 111.33 L347.25 110.67 L348.25 110.02 L349.25 109.39 L350.25 108.77 L351.25 108.16 L352.25 107.56 L353.25 106.96 L354.25 106.36 L355.25 105.77 L356.25 105.17 L357.25 104.57 L358.25 103.95 L359.25 103.33 L360.25 102.70 L361.25 102.06 L362.25 101.42 L363.25 100.78 L364.25 100.14 L365.25 99.50 L366.25 98.86 L367.25 98.24 L368.25 97.62 L369.25 97.02 L370.25 96.43 L371.25 95.86 L372.25 95.30 L373.25 94.75 L374.25 94.22 L375.25 93.69 L376.25 93.17 L377.25 92.66 L378.25 92.15 L379.25 91.64 L380.25 91.14 L381.25 90.64 L382.25 90.13 L383.25 89.63 L384.25 89.12 L385.25 88.62 L386.25 88.12 L387.25 87.62 L388.25 87.12 L389.25 86.63 L390.25 86.13 L391.25 85.63 L392.25 85.14 L393.25 84.64 L394.25 84.15 L395.25 83.66 L396.25 83.16 L397.25 82.67 L398.25 82.18 L399.25 81.69 L400.25 81.20 L401.25 80.71 L402.25 80.22 L403.25 79.73 L404.25 79.24 L405.25 78.74 L406.25 78.25 L407.25 77.75 L408.25 77.25 L409.25 76.75 L410.25 76.25 L411.25 75.76 L412.25 75.27 L413.25 74.78 L414.25 74.30 L415.25 73.83 L416.25 73.36 L417.25 72.91 L418.25 72.46 L419.25 72.02 L420.25 71.59 L421.25 71.17 L422.25 70.76 L423.25 70.35 L424.25 69.95 L425.25 69.56 L426.25 69.17 L427.25 68.78 L428.25 68.40 L429.25 68.02 L430.25 67.64 L431.25 67.26 L432.25 66.89 L433.25 66.52 L434.25 66.15 L435.25 65.78 L436.25 65.41 L437.25 65.04 L438.25 64.67 L439.25 64.31 L440.25 63.95 L441.25 63.59 L442.25 63.24 L443.25 62.89 L444.25 62.54 L445.25 62.19 L445.80 62.00 L445.8 47.0 Z" fill="#cce8f0"/>
<g clip-path="url(#cB)"><rect x="70" y="105" width="260" height="176" fill="url(#bg)"/></g>
<g clip-path="url(#cB)"><g filter="url(#bl)">
<rect x="72.8" y="46" width="1" height="240" fill="#fff" opacity="0.10"/>
<rect x="75.0" y="46" width="1" height="240" fill="#fff" opacity="0.11"/>
<rect x="76.8" y="46" width="1" height="240" fill="#fff" opacity="0.06"/>
<rect x="80.0" y="46" width="1" height="240" fill="#fff" opacity="0.06"/>
<rect x="83.2" y="46" width="1" height="240" fill="#fff" opacity="0.06"/>
<rect x="86.4" y="46" width="1" height="240" fill="#fff" opacity="0.08"/>
<rect x="88.2" y="46" width="1" height="240" fill="#fff" opacity="0.12"/>
<rect x="90.0" y="46" width="1" height="240" fill="#fff" opacity="0.09"/>
<rect x="93.2" y="46" width="1" height="240" fill="#fff" opacity="0.11"/>
<rect x="96.4" y="46" width="1" height="240" fill="#fff" opacity="0.07"/>
<rect x="98.6" y="46" width="1" height="240" fill="#fff" opacity="0.14"/>
<rect x="101.8" y="46" width="1" height="240" fill="#fff" opacity="0.19"/>
<rect x="105.0" y="46" width="1" height="240" fill="#fff" opacity="0.14"/>
<rect x="106.8" y="46" width="1" height="240" fill="#fff" opacity="0.20"/>
<rect x="108.6" y="46" width="1" height="240" fill="#fff" opacity="0.13"/>
<rect x="110.8" y="46" width="1" height="240" fill="#fff" opacity="0.09"/>
<rect x="113.0" y="46" width="1" height="240" fill="#fff" opacity="0.13"/>
<rect x="116.2" y="46" width="1" height="240" fill="#fff" opacity="0.10"/>
<rect x="118.4" y="46" width="1" height="240" fill="#fff" opacity="0.07"/>
<rect x="121.6" y="46" width="1" height="240" fill="#fff" opacity="0.15"/>
<rect x="124.0" y="46" width="1" height="240" fill="#fff" opacity="0.06"/>
<rect x="125.8" y="46" width="1" height="240" fill="#fff" opacity="0.13"/>
<rect x="129.0" y="46" width="1" height="240" fill="#fff" opacity="0.08"/>
<rect x="132.2" y="46" width="1" height="240" fill="#fff" opacity="0.11"/>
<rect x="134.6" y="46" width="1" height="240" fill="#fff" opacity="0.12"/>
<rect x="137.2" y="46" width="1" height="240" fill="#fff" opacity="0.10"/>
<rect x="139.4" y="46" width="1" height="240" fill="#fff" opacity="0.17"/>
<rect x="141.6" y="46" width="1" height="240" fill="#fff" opacity="0.06"/>
<rect x="144.0" y="46" width="1" height="240" fill="#fff" opacity="0.13"/>
<rect x="146.4" y="46" width="1" height="240" fill="#fff" opacity="0.16"/>
<rect x="148.8" y="46" width="1" height="240" fill="#fff" opacity="0.14"/>
<rect x="150.6" y="46" width="1" height="240" fill="#fff" opacity="0.07"/>
<rect x="153.2" y="46" width="1" height="240" fill="#fff" opacity="0.07"/>
<rect x="155.6" y="46" width="1" height="240" fill="#fff" opacity="0.07"/>
<rect x="158.2" y="46" width="1" height="240" fill="#fff" opacity="0.11"/>
<rect x="160.0" y="46" width="1" height="240" fill="#fff" opacity="0.16"/>
<rect x="163.2" y="46" width="1" height="240" fill="#fff" opacity="0.17"/>
<rect x="165.6" y="46" width="1" height="240" fill="#fff" opacity="0.10"/>
<rect x="168.0" y="46" width="1" height="240" fill="#fff" opacity="0.14"/>
<rect x="171.2" y="46" width="1" height="240" fill="#fff" opacity="0.17"/>
<rect x="173.0" y="46" width="1" height="240" fill="#fff" opacity="0.18"/>
<rect x="175.4" y="46" width="1" height="240" fill="#fff" opacity="0.12"/>
<rect x="177.2" y="46" width="1" height="240" fill="#fff" opacity="0.06"/>
<rect x="179.6" y="46" width="1" height="240" fill="#fff" opacity="0.15"/>
<rect x="182.2" y="46" width="1" height="240" fill="#fff" opacity="0.09"/>
<rect x="184.8" y="46" width="1" height="240" fill="#fff" opacity="0.18"/>
<rect x="187.2" y="46" width="1" height="240" fill="#fff" opacity="0.05"/>
<rect x="189.8" y="46" width="1" height="240" fill="#fff" opacity="0.10"/>
<rect x="193.0" y="46" width="1" height="240" fill="#fff" opacity="0.07"/>
<rect x="194.8" y="46" width="1" height="240" fill="#fff" opacity="0.08"/>
<rect x="197.2" y="46" width="1" height="240" fill="#fff" opacity="0.07"/>
<rect x="199.4" y="46" width="1" height="240" fill="#fff" opacity="0.11"/>
<rect x="202.0" y="46" width="1" height="240" fill="#fff" opacity="0.06"/>
<rect x="204.6" y="46" width="1" height="240" fill="#fff" opacity="0.11"/>
<rect x="207.0" y="46" width="1" height="240" fill="#fff" opacity="0.18"/>
<rect x="209.6" y="46" width="1" height="240" fill="#fff" opacity="0.18"/>
<rect x="212.0" y="46" width="1" height="240" fill="#fff" opacity="0.16"/>
<rect x="214.4" y="46" width="1" height="240" fill="#fff" opacity="0.15"/>
<rect x="217.0" y="46" width="1" height="240" fill="#fff" opacity="0.19"/>
<rect x="219.2" y="46" width="1" height="240" fill="#fff" opacity="0.06"/>
<rect x="221.4" y="46" width="1" height="240" fill="#fff" opacity="0.08"/>
<rect x="223.6" y="46" width="1" height="240" fill="#fff" opacity="0.05"/>
<rect x="226.8" y="46" width="1" height="240" fill="#fff" opacity="0.08"/>
<rect x="229.2" y="46" width="1" height="240" fill="#fff" opacity="0.05"/>
<rect x="231.8" y="46" width="1" height="240" fill="#fff" opacity="0.13"/>
<rect x="235.0" y="46" width="1" height="240" fill="#fff" opacity="0.13"/>
<rect x="237.2" y="46" width="1" height="240" fill="#fff" opacity="0.15"/>
<rect x="240.4" y="46" width="1" height="240" fill="#fff" opacity="0.19"/>
<rect x="242.2" y="46" width="1" height="240" fill="#fff" opacity="0.12"/>
<rect x="245.4" y="46" width="1" height="240" fill="#fff" opacity="0.11"/>
<rect x="248.0" y="46" width="1" height="240" fill="#fff" opacity="0.11"/>
<rect x="250.6" y="46" width="1" height="240" fill="#fff" opacity="0.15"/>
<rect x="252.4" y="46" width="1" height="240" fill="#fff" opacity="0.08"/>
<rect x="254.6" y="46" width="1" height="240" fill="#fff" opacity="0.12"/>
<rect x="256.4" y="46" width="1" height="240" fill="#fff" opacity="0.10"/>
<rect x="258.2" y="46" width="1" height="240" fill="#fff" opacity="0.07"/>
<rect x="261.4" y="46" width="1" height="240" fill="#fff" opacity="0.07"/>
<rect x="263.2" y="46" width="1" height="240" fill="#fff" opacity="0.19"/>
<rect x="266.4" y="46" width="1" height="240" fill="#fff" opacity="0.05"/>
<rect x="268.6" y="46" width="1" height="240" fill="#fff" opacity="0.14"/>
<rect x="270.8" y="46" width="1" height="240" fill="#fff" opacity="0.15"/>
<rect x="273.2" y="46" width="1" height="240" fill="#fff" opacity="0.14"/>
<rect x="275.8" y="46" width="1" height="240" fill="#fff" opacity="0.07"/>
<rect x="278.4" y="46" width="1" height="240" fill="#fff" opacity="0.20"/>
<rect x="281.0" y="46" width="1" height="240" fill="#fff" opacity="0.12"/>
<rect x="283.4" y="46" width="1" height="240" fill="#fff" opacity="0.06"/>
<rect x="285.2" y="46" width="1" height="240" fill="#fff" opacity="0.16"/>
<rect x="287.6" y="46" width="1" height="240" fill="#fff" opacity="0.12"/>
<rect x="289.8" y="46" width="1" height="240" fill="#fff" opacity="0.13"/>
<rect x="292.0" y="46" width="1" height="240" fill="#fff" opacity="0.19"/>
<rect x="295.2" y="46" width="1" height="240" fill="#fff" opacity="0.10"/>
<rect x="298.4" y="46" width="1" height="240" fill="#fff" opacity="0.19"/>
<rect x="301.6" y="46" width="1" height="240" fill="#fff" opacity="0.09"/>
<rect x="303.4" y="46" width="1" height="240" fill="#fff" opacity="0.15"/>
<rect x="305.8" y="46" width="1" height="240" fill="#fff" opacity="0.13"/>
<rect x="308.0" y="46" width="1" height="240" fill="#fff" opacity="0.10"/>
<rect x="310.2" y="46" width="1" height="240" fill="#fff" opacity="0.13"/>
<rect x="313.4" y="46" width="1" height="240" fill="#fff" opacity="0.10"/>
<rect x="315.6" y="46" width="1" height="240" fill="#fff" opacity="0.14"/>
<rect x="317.8" y="46" width="1" height="240" fill="#fff" opacity="0.17"/>
<rect x="320.4" y="46" width="1" height="240" fill="#fff" opacity="0.16"/>
<rect x="322.6" y="46" width="1" height="240" fill="#fff" opacity="0.08"/>
<rect x="325.2" y="46" width="1" height="240" fill="#fff" opacity="0.10"/>
<rect x="327.0" y="46" width="1" height="240" fill="#fff" opacity="0.20"/>
<rect x="329.4" y="46" width="1" height="240" fill="#fff" opacity="0.12"/>
</g></g>
<path d="M164.10 47.0 L164.10 84.75 L165.10 85.31 L166.10 85.87 L167.10 86.44 L168.10 87.02 L169.10 87.60 L170.10 88.19 L171.10 88.79 L172.10 89.41 L173.10 90.03 L174.10 90.66 L175.10 91.31 L176.10 91.97 L177.10 92.64 L178.10 93.33 L179.10 94.04 L180.10 94.76 L181.10 95.50 L182.10 96.25 L183.10 97.01 L184.10 97.78 L185.10 98.56 L186.10 99.35 L187.10 100.14 L188.10 100.95 L189.10 101.76 L190.10 102.57 L191.10 103.39 L192.10 104.21 L193.10 105.03 L194.10 105.85 L195.10 106.68 L196.10 107.50 L197.10 108.32 L198.10 109.13 L199.10 109.94 L200.10 110.74 L201.10 111.54 L202.10 112.33 L203.10 113.12 L204.10 113.89 L205.10 114.65 L206.10 115.40 L207.10 116.14 L208.10 116.86 L209.10 117.57 L210.10 118.27 L211.10 118.97 L212.10 119.66 L213.10 120.35 L214.10 121.03 L215.10 121.71 L216.10 122.38 L217.10 123.05 L218.10 123.72 L219.10 124.38 L220.10 125.04 L221.10 125.70 L222.10 126.35 L223.10 126.99 L224.10 127.64 L225.10 128.28 L226.10 128.91 L227.10 129.54 L228.10 130.17 L229.10 130.80 L230.10 131.42 L231.10 132.04 L232.10 132.66 L233.10 133.27 L234.10 133.88 L235.10 134.48 L236.10 135.08 L237.10 135.68 L238.10 136.28 L239.10 136.88 L240.10 137.47 L241.10 138.07 L242.10 138.66 L243.10 139.26 L244.10 139.85 L245.10 140.44 L246.10 141.03 L247.10 141.62 L248.10 142.21 L249.10 142.79 L250.10 143.37 L251.10 143.94 L252.10 144.51 L253.10 145.08 L254.10 145.64 L255.10 146.20 L256.10 146.75 L257.10 147.29 L258.10 147.83 L259.10 148.36 L260.10 148.89 L261.10 149.40 L262.10 149.91 L263.10 150.41 L264.10 150.90 L265.10 151.38 L266.10 151.86 L267.10 152.32 L268.10 152.77 L269.10 153.23 L270.10 153.69 L271.10 154.16 L272.10 154.62 L273.10 155.09 L274.10 155.55 L275.10 156.00 L276.10 156.45 L277.10 156.90 L278.10 157.33 L279.10 157.75 L280.10 158.17 L281.10 158.56 L282.10 158.95 L283.10 159.31 L284.10 159.66 L285.10 159.99 L286.10 160.29 L287.10 160.58 L288.10 160.83 L289.10 161.07 L290.10 161.27 L291.10 161.46 L292.10 161.64 L293.10 161.82 L294.10 161.99 L295.10 162.15 L296.10 162.30 L297.10 162.45 L298.10 162.59 L299.10 162.71 L300.10 162.83 L301.10 162.94 L302.10 163.03 L303.10 163.12 L304.10 163.19 L305.10 163.26 L306.10 163.31 L307.10 163.37 L308.10 163.42 L309.10 163.47 L310.10 163.52 L311.10 163.56 L312.10 163.61 L313.10 163.64 L314.10 163.68 L315.10 163.70 L316.10 163.72 L317.10 163.74 L318.10 163.75 L319.10 163.75 L320.10 163.72 L321.10 163.67 L322.10 163.60 L323.10 163.50 L324.10 163.38 L325.10 163.24 L326.10 163.09 L327.10 162.92 L328.10 162.73 L329.10 162.54 L330.10 162.33 L331.10 162.12 L332.10 161.90 L333.10 161.68 L334.10 161.45 L335.10 161.23 L336.10 160.98 L337.10 160.70 L338.10 160.40 L339.10 160.06 L340.10 159.70 L341.10 159.31 L342.10 158.90 L343.10 158.47 L344.10 158.02 L345.10 157.55 L346.10 157.07 L347.10 156.58 L348.10 156.07 L349.10 155.55 L350.10 155.03 L351.10 154.50 L352.10 153.96 L353.10 153.42 L354.10 152.86 L355.10 152.26 L356.10 151.64 L357.10 150.99 L358.10 150.33 L359.10 149.64 L360.10 148.93 L361.10 148.21 L362.10 147.47 L363.10 146.71 L364.10 145.94 L365.10 145.17 L366.10 144.38 L367.10 143.58 L368.10 142.78 L369.10 141.98 L370.10 141.17 L371.10 140.35 L372.10 139.51 L373.10 138.66 L374.10 137.79 L375.10 136.90 L376.10 136.00 L377.10 135.09 L378.10 134.17 L379.10 133.23 L380.10 132.28 L381.10 131.32 L382.10 130.36 L383.10 129.38 L384.10 128.40 L385.10 127.41 L386.10 126.42 L387.10 125.42 L388.10 124.41 L389.10 123.41 L390.10 122.40 L391.10 121.38 L392.10 120.33 L393.10 119.28 L394.10 118.20 L395.10 117.11 L396.10 116.02 L397.10 114.91 L398.10 113.80 L399.10 112.69 L400.10 111.59 L401.10 110.48 L402.10 109.38 L403.10 108.29 L404.10 107.21 L405.10 106.14 L406.10 105.09 L407.10 104.04 L408.10 102.99 L409.10 101.95 L410.10 100.92 L411.10 99.90 L412.10 98.87 L413.10 97.85 L414.10 96.82 L415.10 95.80 L416.10 94.79 L417.10 93.78 L418.10 92.78 L419.10 91.80 L420.10 90.84 L421.10 89.89 L422.10 88.97 L423.10 88.06 L424.10 87.18 L425.10 86.31 L426.10 85.45 L427.10 84.60 L428.10 83.74 L429.10 82.88 L430.10 82.01 L431.10 81.13 L432.10 80.23 L433.10 79.30 L434.10 78.37 L435.10 77.47 L436.10 76.62 L437.10 75.80 L438.10 75.00 L439.10 74.22 L440.10 73.45 L441.10 72.71 L442.10 71.98 L443.10 71.27 L444.10 70.59 L445.10 69.94 L445.80 69.50 L445.8 47.0 Z" fill="#c3f4c7"/>
<g clip-path="url(#cB)"><path d="M164.10 47.0 L164.10 84.75 L165.10 85.31 L166.10 85.87 L167.10 86.44 L168.10 87.02 L169.10 87.60 L170.10 88.19 L171.10 88.79 L172.10 89.41 L173.10 90.03 L174.10 90.66 L175.10 91.31 L176.10 91.97 L177.10 92.64 L178.10 93.33 L179.10 94.04 L180.10 94.76 L181.10 95.50 L182.10 96.25 L183.10 97.01 L184.10 97.78 L185.10 98.56 L186.10 99.35 L187.10 100.14 L188.10 100.95 L189.10 101.76 L190.10 102.57 L191.10 103.39 L192.10 104.21 L193.10 105.03 L194.10 105.85 L195.10 106.68 L196.10 107.50 L197.10 108.32 L198.10 109.13 L199.10 109.94 L200.10 110.74 L201.10 111.54 L202.10 112.33 L203.10 113.12 L204.10 113.89 L205.10 114.65 L206.10 115.40 L207.10 116.14 L208.10 116.86 L209.10 117.57 L210.10 118.27 L211.10 118.97 L212.10 119.66 L213.10 120.35 L214.10 121.03 L215.10 121.71 L216.10 122.38 L217.10 123.05 L218.10 123.72 L219.10 124.38 L220.10 125.04 L221.10 125.70 L222.10 126.35 L223.10 126.99 L224.10 127.64 L225.10 128.28 L226.10 128.91 L227.10 129.54 L228.10 130.17 L229.10 130.80 L230.10 131.42 L231.10 132.04 L232.10 132.66 L233.10 133.27 L234.10 133.88 L235.10 134.48 L236.10 135.08 L237.10 135.68 L238.10 136.28 L239.10 136.88 L240.10 137.47 L241.10 138.07 L242.10 138.66 L243.10 139.26 L244.10 139.85 L245.10 140.44 L246.10 141.03 L247.10 141.62 L248.10 142.21 L249.10 142.79 L250.10 143.37 L251.10 143.94 L252.10 144.51 L253.10 145.08 L254.10 145.64 L255.10 146.20 L256.10 146.75 L257.10 147.29 L258.10 147.83 L259.10 148.36 L260.10 148.89 L261.10 149.40 L262.10 149.91 L263.10 150.41 L264.10 150.90 L265.10 151.38 L266.10 151.86 L267.10 152.32 L268.10 152.77 L269.10 153.23 L270.10 153.69 L271.10 154.16 L272.10 154.62 L273.10 155.09 L274.10 155.55 L275.10 156.00 L276.10 156.45 L277.10 156.90 L278.10 157.33 L279.10 157.75 L280.10 158.17 L281.10 158.56 L282.10 158.95 L283.10 159.31 L284.10 159.66 L285.10 159.99 L286.10 160.29 L287.10 160.58 L288.10 160.83 L289.10 161.07 L290.10 161.27 L291.10 161.46 L292.10 161.64 L293.10 161.82 L294.10 161.99 L295.10 162.15 L296.10 162.30 L297.10 162.45 L298.10 162.59 L299.10 162.71 L300.10 162.83 L301.10 162.94 L302.10 163.03 L303.10 163.12 L304.10 163.19 L305.10 163.26 L306.10 163.31 L307.10 163.37 L308.10 163.42 L309.10 163.47 L310.10 163.52 L311.10 163.56 L312.10 163.61 L313.10 163.64 L314.10 163.68 L315.10 163.70 L316.10 163.72 L317.10 163.74 L318.10 163.75 L319.10 163.75 L320.10 163.72 L321.10 163.67 L322.10 163.60 L323.10 163.50 L324.10 163.38 L325.10 163.24 L326.10 163.09 L327.10 162.92 L328.10 162.73 L329.10 162.54 L330.10 162.33 L331.10 162.12 L332.10 161.90 L333.10 161.68 L334.10 161.45 L335.10 161.23 L336.10 160.98 L337.10 160.70 L338.10 160.40 L339.10 160.06 L340.10 159.70 L341.10 159.31 L342.10 158.90 L343.10 158.47 L344.10 158.02 L345.10 157.55 L346.10 157.07 L347.10 156.58 L348.10 156.07 L349.10 155.55 L350.10 155.03 L351.10 154.50 L352.10 153.96 L353.10 153.42 L354.10 152.86 L355.10 152.26 L356.10 151.64 L357.10 150.99 L358.10 150.33 L359.10 149.64 L360.10 148.93 L361.10 148.21 L362.10 147.47 L363.10 146.71 L364.10 145.94 L365.10 145.17 L366.10 144.38 L367.10 143.58 L368.10 142.78 L369.10 141.98 L370.10 141.17 L371.10 140.35 L372.10 139.51 L373.10 138.66 L374.10 137.79 L375.10 136.90 L376.10 136.00 L377.10 135.09 L378.10 134.17 L379.10 133.23 L380.10 132.28 L381.10 131.32 L382.10 130.36 L383.10 129.38 L384.10 128.40 L385.10 127.41 L386.10 126.42 L387.10 125.42 L388.10 124.41 L389.10 123.41 L390.10 122.40 L391.10 121.38 L392.10 120.33 L393.10 119.28 L394.10 118.20 L395.10 117.11 L396.10 116.02 L397.10 114.91 L398.10 113.80 L399.10 112.69 L400.10 111.59 L401.10 110.48 L402.10 109.38 L403.10 108.29 L404.10 107.21 L405.10 106.14 L406.10 105.09 L407.10 104.04 L408.10 102.99 L409.10 101.95 L410.10 100.92 L411.10 99.90 L412.10 98.87 L413.10 97.85 L414.10 96.82 L415.10 95.80 L416.10 94.79 L417.10 93.78 L418.10 92.78 L419.10 91.80 L420.10 90.84 L421.10 89.89 L422.10 88.97 L423.10 88.06 L424.10 87.18 L425.10 86.31 L426.10 85.45 L427.10 84.60 L428.10 83.74 L429.10 82.88 L430.10 82.01 L431.10 81.13 L432.10 80.23 L433.10 79.30 L434.10 78.37 L435.10 77.47 L436.10 76.62 L437.10 75.80 L438.10 75.00 L439.10 74.22 L440.10 73.45 L441.10 72.71 L442.10 71.98 L443.10 71.27 L444.10 70.59 L445.10 69.94 L445.80 69.50 L445.8 47.0 Z" fill="#a5eaaa"/></g>
<path d="M72.25 47.0 L72.25 81.25 L73.25 82.09 L74.25 82.93 L75.25 83.74 L76.25 84.54 L77.25 85.32 L78.25 86.07 L79.25 86.80 L80.25 87.52 L81.25 88.24 L82.25 88.96 L83.25 89.66 L84.25 90.35 L85.25 91.02 L86.25 91.67 L87.25 92.30 L88.25 92.90 L89.25 93.48 L90.25 94.02 L91.25 94.52 L92.25 95.02 L93.25 95.50 L94.25 95.97 L95.25 96.43 L96.25 96.88 L97.25 97.30 L98.25 97.71 L99.25 98.09 L100.25 98.45 L101.25 98.78 L102.25 99.08 L103.25 99.34 L104.25 99.57 L105.25 99.79 L106.25 99.99 L107.25 100.18 L108.25 100.36 L109.25 100.52 L110.25 100.68 L111.25 100.83 L112.25 100.98 L113.25 101.12 L114.25 101.26 L115.25 101.40 L116.25 101.54 L117.25 101.69 L118.25 101.85 L119.25 102.00 L120.25 102.13 L121.25 102.22 L122.25 102.25 L123.25 102.24 L124.25 102.20 L125.25 102.15 L126.25 102.08 L127.25 102.01 L128.25 101.92 L129.25 101.82 L130.25 101.66 L131.25 101.46 L132.25 101.21 L133.25 100.93 L134.25 100.62 L135.25 100.28 L136.25 99.92 L137.25 99.54 L138.25 99.16 L139.25 98.77 L140.25 98.39 L141.25 98.00 L142.25 97.61 L143.25 97.19 L144.25 96.75 L145.25 96.29 L146.25 95.81 L147.25 95.31 L148.25 94.79 L149.25 94.27 L150.25 93.73 L151.25 93.17 L152.25 92.61 L153.25 92.04 L154.25 91.46 L155.25 90.86 L156.25 90.24 L157.25 89.60 L158.25 88.94 L159.25 88.26 L160.25 87.57 L161.25 86.86 L162.25 86.13 L163.25 85.39 L164.25 84.64 L165.25 83.86 L166.25 83.07 L167.25 82.26 L168.25 81.43 L169.25 80.58 L170.25 79.71 L171.25 78.82 L172.25 77.92 L173.25 77.00 L174.25 76.07 L175.25 75.12 L176.25 74.15 L177.25 73.11 L178.25 72.00 L179.25 70.87 L180.25 69.75 L181.25 68.68 L182.25 67.72 L183.25 66.87 L184.25 66.06 L185.25 65.29 L186.25 64.56 L187.25 63.86 L188.25 63.18 L189.25 62.51 L190.25 61.86 L191.25 61.21 L192.25 60.57 L193.25 59.92 L194.25 59.26 L195.25 58.58 L196.25 57.90 L197.25 57.21 L198.25 56.53 L199.25 55.85 L200.25 55.19 L201.25 54.54 L202.25 53.90 L203.25 53.28 L204.25 52.65 L205.25 52.01 L206.25 51.38 L207.25 50.78 L208.25 50.20 L209.25 49.66 L210.25 49.17 L211.25 48.75 L212.25 48.37 L213.25 48.02 L214.25 47.70 L215.25 47.41 L216.25 47.16 L217.00 47.00 Z" fill="#e77472"/>
<path d="M332.50 47.0 L332.50 47.00 L333.50 47.26 L334.50 47.63 L335.50 48.08 L336.50 48.59 L337.50 49.22 L338.50 50.05 L339.50 50.95 L340.50 51.78 L341.50 52.46 L342.50 53.05 L343.50 53.61 L344.50 54.19 L345.50 54.83 L346.50 55.52 L347.50 56.23 L348.50 56.93 L349.50 57.59 L350.50 58.20 L351.50 58.80 L352.50 59.40 L353.50 60.03 L354.50 60.69 L355.50 61.37 L356.50 62.08 L357.50 62.80 L358.50 63.54 L359.50 64.30 L360.50 65.07 L361.50 65.85 L362.50 66.64 L363.50 67.44 L364.50 68.26 L365.50 69.07 L366.50 69.89 L367.50 70.72 L368.50 71.55 L369.50 72.37 L370.50 73.20 L371.50 74.02 L372.50 74.84 L373.50 75.66 L374.50 76.50 L375.50 77.35 L376.50 78.22 L377.50 79.10 L378.50 79.98 L379.50 80.86 L380.50 81.74 L381.50 82.61 L382.50 83.47 L383.50 84.31 L384.50 85.13 L385.50 85.94 L386.50 86.71 L387.50 87.45 L388.50 88.16 L389.50 88.83 L390.50 89.47 L391.50 90.10 L392.50 90.70 L393.50 91.29 L394.50 91.87 L395.50 92.43 L396.50 92.97 L397.50 93.50 L398.50 94.02 L399.50 94.53 L400.50 95.03 L401.50 95.52 L402.50 96.00 L403.50 96.48 L404.50 96.96 L405.50 97.44 L406.50 97.90 L407.50 98.35 L408.50 98.77 L409.50 99.16 L410.50 99.51 L411.50 99.82 L412.50 100.12 L413.50 100.40 L414.50 100.67 L415.50 100.92 L416.50 101.16 L417.50 101.38 L418.50 101.58 L419.50 101.76 L420.50 101.91 L421.50 102.03 L422.50 102.14 L423.50 102.25 L424.50 102.35 L425.50 102.43 L426.50 102.48 L427.50 102.50 L428.50 102.48 L429.50 102.43 L430.50 102.34 L431.50 102.23 L432.50 102.10 L433.50 101.95 L434.50 101.78 L435.50 101.61 L436.50 101.43 L437.50 101.25 L438.50 101.05 L439.50 100.82 L440.50 100.55 L441.50 100.26 L442.50 99.94 L443.50 99.60 L444.50 99.24 L445.50 98.86 L445.80 98.75 L445.8 47.0 Z" fill="#f78e8f"/>
<g clip-path="url(#cR)"><path d="M164.10 47.0 L164.10 84.75 L165.10 85.31 L166.10 85.87 L167.10 86.44 L168.10 87.02 L169.10 87.60 L170.10 88.19 L171.10 88.79 L172.10 89.41 L173.10 90.03 L174.10 90.66 L175.10 91.31 L176.10 91.97 L177.10 92.64 L178.10 93.33 L179.10 94.04 L180.10 94.76 L181.10 95.50 L182.10 96.25 L183.10 97.01 L184.10 97.78 L185.10 98.56 L186.10 99.35 L187.10 100.14 L188.10 100.95 L189.10 101.76 L190.10 102.57 L191.10 103.39 L192.10 104.21 L193.10 105.03 L194.10 105.85 L195.10 106.68 L196.10 107.50 L197.10 108.32 L198.10 109.13 L199.10 109.94 L200.10 110.74 L201.10 111.54 L202.10 112.33 L203.10 113.12 L204.10 113.89 L205.10 114.65 L206.10 115.40 L207.10 116.14 L208.10 116.86 L209.10 117.57 L210.10 118.27 L211.10 118.97 L212.10 119.66 L213.10 120.35 L214.10 121.03 L215.10 121.71 L216.10 122.38 L217.10 123.05 L218.10 123.72 L219.10 124.38 L220.10 125.04 L221.10 125.70 L222.10 126.35 L223.10 126.99 L224.10 127.64 L225.10 128.28 L226.10 128.91 L227.10 129.54 L228.10 130.17 L229.10 130.80 L230.10 131.42 L231.10 132.04 L232.10 132.66 L233.10 133.27 L234.10 133.88 L235.10 134.48 L236.10 135.08 L237.10 135.68 L238.10 136.28 L239.10 136.88 L240.10 137.47 L241.10 138.07 L242.10 138.66 L243.10 139.26 L244.10 139.85 L245.10 140.44 L246.10 141.03 L247.10 141.62 L248.10 142.21 L249.10 142.79 L250.10 143.37 L251.10 143.94 L252.10 144.51 L253.10 145.08 L254.10 145.64 L255.10 146.20 L256.10 146.75 L257.10 147.29 L258.10 147.83 L259.10 148.36 L260.10 148.89 L261.10 149.40 L262.10 149.91 L263.10 150.41 L264.10 150.90 L265.10 151.38 L266.10 151.86 L267.10 152.32 L268.10 152.77 L269.10 153.23 L270.10 153.69 L271.10 154.16 L272.10 154.62 L273.10 155.09 L274.10 155.55 L275.10 156.00 L276.10 156.45 L277.10 156.90 L278.10 157.33 L279.10 157.75 L280.10 158.17 L281.10 158.56 L282.10 158.95 L283.10 159.31 L284.10 159.66 L285.10 159.99 L286.10 160.29 L287.10 160.58 L288.10 160.83 L289.10 161.07 L290.10 161.27 L291.10 161.46 L292.10 161.64 L293.10 161.82 L294.10 161.99 L295.10 162.15 L296.10 162.30 L297.10 162.45 L298.10 162.59 L299.10 162.71 L300.10 162.83 L301.10 162.94 L302.10 163.03 L303.10 163.12 L304.10 163.19 L305.10 163.26 L306.10 163.31 L307.10 163.37 L308.10 163.42 L309.10 163.47 L310.10 163.52 L311.10 163.56 L312.10 163.61 L313.10 163.64 L314.10 163.68 L315.10 163.70 L316.10 163.72 L317.10 163.74 L318.10 163.75 L319.10 163.75 L320.10 163.72 L321.10 163.67 L322.10 163.60 L323.10 163.50 L324.10 163.38 L325.10 163.24 L326.10 163.09 L327.10 162.92 L328.10 162.73 L329.10 162.54 L330.10 162.33 L331.10 162.12 L332.10 161.90 L333.10 161.68 L334.10 161.45 L335.10 161.23 L336.10 160.98 L337.10 160.70 L338.10 160.40 L339.10 160.06 L340.10 159.70 L341.10 159.31 L342.10 158.90 L343.10 158.47 L344.10 158.02 L345.10 157.55 L346.10 157.07 L347.10 156.58 L348.10 156.07 L349.10 155.55 L350.10 155.03 L351.10 154.50 L352.10 153.96 L353.10 153.42 L354.10 152.86 L355.10 152.26 L356.10 151.64 L357.10 150.99 L358.10 150.33 L359.10 149.64 L360.10 148.93 L361.10 148.21 L362.10 147.47 L363.10 146.71 L364.10 145.94 L365.10 145.17 L366.10 144.38 L367.10 143.58 L368.10 142.78 L369.10 141.98 L370.10 141.17 L371.10 140.35 L372.10 139.51 L373.10 138.66 L374.10 137.79 L375.10 136.90 L376.10 136.00 L377.10 135.09 L378.10 134.17 L379.10 133.23 L380.10 132.28 L381.10 131.32 L382.10 130.36 L383.10 129.38 L384.10 128.40 L385.10 127.41 L386.10 126.42 L387.10 125.42 L388.10 124.41 L389.10 123.41 L390.10 122.40 L391.10 121.38 L392.10 120.33 L393.10 119.28 L394.10 118.20 L395.10 117.11 L396.10 116.02 L397.10 114.91 L398.10 113.80 L399.10 112.69 L400.10 111.59 L401.10 110.48 L402.10 109.38 L403.10 108.29 L404.10 107.21 L405.10 106.14 L406.10 105.09 L407.10 104.04 L408.10 102.99 L409.10 101.95 L410.10 100.92 L411.10 99.90 L412.10 98.87 L413.10 97.85 L414.10 96.82 L415.10 95.80 L416.10 94.79 L417.10 93.78 L418.10 92.78 L419.10 91.80 L420.10 90.84 L421.10 89.89 L422.10 88.97 L423.10 88.06 L424.10 87.18 L425.10 86.31 L426.10 85.45 L427.10 84.60 L428.10 83.74 L429.10 82.88 L430.10 82.01 L431.10 81.13 L432.10 80.23 L433.10 79.30 L434.10 78.37 L435.10 77.47 L436.10 76.62 L437.10 75.80 L438.10 75.00 L439.10 74.22 L440.10 73.45 L441.10 72.71 L442.10 71.98 L443.10 71.27 L444.10 70.59 L445.10 69.94 L445.80 69.50 L445.8 47.0 Z" fill="#cb785d"/></g>
<path d="M150 72 L178 72 L177.10 73.27 L176.10 74.30 L175.10 75.26 L174.10 76.21 L173.10 77.14 L172.10 78.06 L171.10 78.96 L170.10 79.84 L169.10 80.71 L168.10 81.55 L167.10 82.38 L166.10 83.19 L165.10 83.98 L164.10 84.75 Z" fill="#cb785d"/>
<filter id="bl2" x="-5%" y="-5%" width="110%" height="110%"><feGaussianBlur stdDeviation="0.35 0.3"/></filter>
<g clip-path="url(#cR)"><g filter="url(#bl2)">
<rect x="72.0" y="46" width="1.0" height="5.3" fill="#e46258" opacity="0.98"/>
<rect x="73.0" y="46" width="1.0" height="4.2" fill="#e46258" opacity="0.98"/>
<rect x="74.0" y="46" width="1.0" height="7.1" fill="#e46258" opacity="0.98"/>
<rect x="75.0" y="46" width="1.0" height="4.1" fill="#e46258" opacity="0.73"/>
<rect x="76.0" y="46" width="1.0" height="3.6" fill="#e46258" opacity="0.72"/>
<rect x="77.0" y="46" width="1.0" height="3.7" fill="#e46258" opacity="0.87"/>
<rect x="78.0" y="46" width="1.0" height="7.4" fill="#e46258" opacity="0.94"/>
<rect x="79.0" y="46" width="1.0" height="5.5" fill="#e46258" opacity="0.88"/>
<rect x="80.0" y="46" width="1.0" height="7.3" fill="#e46258" opacity="0.68"/>
<rect x="81.0" y="46" width="1.0" height="6.8" fill="#e46258" opacity="0.97"/>
<rect x="82.0" y="46" width="1.0" height="7.7" fill="#e46258" opacity="0.91"/>
<rect x="83.0" y="46" width="1.0" height="6.4" fill="#e46258" opacity="0.71"/>
<rect x="84.0" y="46" width="1.0" height="8.1" fill="#e46258" opacity="0.77"/>
<rect x="85.0" y="46" width="1.0" height="8.4" fill="#e46258" opacity="0.99"/>
<rect x="86.0" y="46" width="1.0" height="6.6" fill="#e46258" opacity="0.79"/>
<rect x="87.0" y="46" width="1.0" height="9.6" fill="#e46258" opacity="0.90"/>
<rect x="88.0" y="46" width="1.0" height="6.0" fill="#e46258" opacity="0.69"/>
<rect x="89.0" y="46" width="1.0" height="6.1" fill="#e46258" opacity="0.97"/>
<rect x="90.0" y="46" width="1.0" height="9.6" fill="#e46258" opacity="0.70"/>
<rect x="91.0" y="46" width="1.0" height="10.0" fill="#e46258" opacity="0.99"/>
<rect x="92.0" y="46" width="1.0" height="9.4" fill="#e46258" opacity="0.77"/>
<rect x="93.0" y="46" width="1.0" height="9.1" fill="#e46258" opacity="0.70"/>
<rect x="94.0" y="46" width="1.0" height="6.7" fill="#e46258" opacity="0.99"/>
<rect x="95.0" y="46" width="1.0" height="10.1" fill="#e46258" opacity="0.83"/>
<rect x="96.0" y="46" width="1.0" height="11.8" fill="#e46258" opacity="0.80"/>
<rect x="97.0" y="46" width="1.0" height="11.8" fill="#e46258" opacity="0.94"/>
<rect x="98.0" y="46" width="1.0" height="8.8" fill="#e46258" opacity="0.74"/>
<rect x="99.0" y="46" width="1.0" height="9.5" fill="#e46258" opacity="0.73"/>
<rect x="100.0" y="46" width="1.0" height="11.3" fill="#e46258" opacity="0.74"/>
<rect x="101.0" y="46" width="1.0" height="10.8" fill="#e46258" opacity="0.70"/>
<rect x="102.0" y="46" width="1.0" height="13.6" fill="#e46258" opacity="0.77"/>
<rect x="103.0" y="46" width="1.0" height="11.6" fill="#e46258" opacity="0.85"/>
<rect x="104.0" y="46" width="1.0" height="14.2" fill="#e46258" opacity="0.80"/>
<rect x="105.0" y="46" width="1.0" height="14.5" fill="#e46258" opacity="0.83"/>
<rect x="106.0" y="46" width="1.0" height="12.9" fill="#e46258" opacity="0.83"/>
<rect x="107.0" y="46" width="1.0" height="10.6" fill="#e46258" opacity="0.80"/>
<rect x="108.0" y="46" width="1.0" height="11.7" fill="#e46258" opacity="0.65"/>
<rect x="109.0" y="46" width="1.0" height="15.0" fill="#e46258" opacity="0.71"/>
<rect x="110.0" y="46" width="1.0" height="13.6" fill="#e46258" opacity="0.90"/>
<rect x="111.0" y="46" width="1.0" height="14.2" fill="#e46258" opacity="0.76"/>
<rect x="112.0" y="46" width="1.0" height="14.2" fill="#e46258" opacity="0.84"/>
<rect x="113.0" y="46" width="1.0" height="15.8" fill="#e46258" opacity="0.69"/>
<rect x="114.0" y="46" width="1.0" height="14.9" fill="#e46258" opacity="0.74"/>
<rect x="115.0" y="46" width="1.0" height="13.7" fill="#e46258" opacity="0.92"/>
<rect x="116.0" y="46" width="1.0" height="15.1" fill="#e46258" opacity="0.85"/>
<rect x="117.0" y="46" width="1.0" height="16.6" fill="#e46258" opacity="0.97"/>
<rect x="118.0" y="46" width="1.0" height="15.3" fill="#e46258" opacity="0.86"/>
<rect x="119.0" y="46" width="1.0" height="15.9" fill="#e46258" opacity="0.83"/>
<rect x="120.0" y="46" width="1.0" height="17.1" fill="#e46258" opacity="0.81"/>
<rect x="121.0" y="46" width="1.0" height="16.7" fill="#e46258" opacity="0.82"/>
<rect x="122.0" y="46" width="1.0" height="19.3" fill="#e46258" opacity="0.89"/>
<rect x="123.0" y="46" width="1.0" height="19.5" fill="#e46258" opacity="0.98"/>
<rect x="124.0" y="46" width="1.0" height="16.9" fill="#e46258" opacity="0.85"/>
<rect x="125.0" y="46" width="1.0" height="20.9" fill="#e46258" opacity="0.94"/>
<rect x="126.0" y="46" width="1.0" height="17.5" fill="#e46258" opacity="0.69"/>
<rect x="127.0" y="46" width="1.0" height="19.6" fill="#e46258" opacity="0.68"/>
<rect x="128.0" y="46" width="1.0" height="19.2" fill="#e46258" opacity="0.68"/>
<rect x="129.0" y="46" width="1.0" height="21.9" fill="#e46258" opacity="0.92"/>
<rect x="130.0" y="46" width="1.0" height="23.6" fill="#e46258" opacity="0.70"/>
<rect x="131.0" y="46" width="1.0" height="23.2" fill="#e46258" opacity="0.88"/>
<rect x="132.0" y="46" width="1.0" height="20.7" fill="#e46258" opacity="0.96"/>
<rect x="133.0" y="46" width="1.0" height="25.2" fill="#e46258" opacity="0.73"/>
<rect x="134.0" y="46" width="1.0" height="25.5" fill="#e46258" opacity="0.79"/>
<rect x="135.0" y="46" width="1.0" height="23.6" fill="#e46258" opacity="1.00"/>
<rect x="136.0" y="46" width="1.0" height="25.7" fill="#e46258" opacity="0.71"/>
<rect x="137.0" y="46" width="1.0" height="24.0" fill="#e46258" opacity="0.83"/>
<rect x="138.0" y="46" width="1.0" height="23.8" fill="#e46258" opacity="0.72"/>
<rect x="139.0" y="46" width="1.0" height="24.0" fill="#e46258" opacity="0.90"/>
<rect x="140.0" y="46" width="1.0" height="22.8" fill="#e46258" opacity="0.84"/>
<rect x="141.0" y="46" width="1.0" height="25.1" fill="#e46258" opacity="0.66"/>
<rect x="142.0" y="46" width="1.0" height="24.7" fill="#e46258" opacity="0.87"/>
<rect x="143.0" y="46" width="1.0" height="25.7" fill="#e46258" opacity="0.67"/>
<rect x="144.0" y="46" width="1.0" height="28.1" fill="#e46258" opacity="0.93"/>
<rect x="145.0" y="46" width="1.0" height="28.1" fill="#e46258" opacity="0.69"/>
<rect x="146.0" y="46" width="1.0" height="24.7" fill="#e46258" opacity="0.66"/>
<rect x="147.0" y="46" width="1.0" height="27.3" fill="#e46258" opacity="0.74"/>
<rect x="148.0" y="46" width="1.0" height="24.1" fill="#e46258" opacity="0.80"/>
<rect x="149.0" y="46" width="1.0" height="28.1" fill="#e46258" opacity="0.94"/>
<rect x="150.0" y="46" width="1.0" height="24.8" fill="#e46258" opacity="0.70"/>
<rect x="151.0" y="46" width="1.0" height="28.1" fill="#e46258" opacity="0.85"/>
<rect x="152.0" y="46" width="1.0" height="27.0" fill="#e46258" opacity="0.68"/>
<rect x="153.0" y="46" width="1.0" height="23.8" fill="#e46258" opacity="0.89"/>
<rect x="154.0" y="46" width="1.0" height="25.6" fill="#e46258" opacity="0.68"/>
<rect x="155.0" y="46" width="1.0" height="28.2" fill="#e46258" opacity="0.87"/>
<rect x="156.0" y="46" width="1.0" height="27.5" fill="#e46258" opacity="0.68"/>
<rect x="157.0" y="46" width="1.0" height="27.8" fill="#e46258" opacity="0.67"/>
<rect x="158.0" y="46" width="1.0" height="27.8" fill="#e46258" opacity="0.81"/>
<rect x="159.0" y="46" width="1.0" height="25.2" fill="#e46258" opacity="0.84"/>
<rect x="160.0" y="46" width="1.0" height="28.1" fill="#e46258" opacity="0.74"/>
<rect x="161.0" y="46" width="1.0" height="24.1" fill="#e46258" opacity="0.83"/>
<rect x="162.0" y="46" width="1.0" height="24.7" fill="#e46258" opacity="0.69"/>
<rect x="163.0" y="46" width="1.0" height="24.3" fill="#e46258" opacity="0.67"/>
<rect x="164.0" y="46" width="1.0" height="24.5" fill="#e46258" opacity="0.76"/>
<rect x="165.0" y="46" width="1.0" height="25.0" fill="#e46258" opacity="0.92"/>
<rect x="166.0" y="46" width="1.0" height="24.9" fill="#e46258" opacity="0.83"/>
<rect x="167.0" y="46" width="1.0" height="24.4" fill="#e46258" opacity="0.77"/>
<rect x="168.0" y="46" width="1.0" height="23.6" fill="#e46258" opacity="0.74"/>
<rect x="169.0" y="46" width="1.0" height="23.6" fill="#e46258" opacity="0.91"/>
<rect x="170.0" y="46" width="1.0" height="26.3" fill="#e46258" opacity="0.72"/>
<rect x="171.0" y="46" width="1.0" height="25.9" fill="#e46258" opacity="0.98"/>
<rect x="172.0" y="46" width="1.0" height="24.0" fill="#e46258" opacity="0.94"/>
<rect x="173.0" y="46" width="1.0" height="25.7" fill="#e46258" opacity="0.82"/>
<rect x="174.0" y="46" width="1.0" height="27.7" fill="#e46258" opacity="0.79"/>
<rect x="175.0" y="46" width="1.0" height="26.0" fill="#e46258" opacity="0.89"/>
<rect x="176.0" y="46" width="1.0" height="28.4" fill="#e46258" opacity="0.77"/>
<rect x="177.0" y="46" width="1.0" height="27.7" fill="#e46258" opacity="0.90"/>
<rect x="178.0" y="46" width="1.0" height="26.7" fill="#e46258" opacity="0.79"/>
<rect x="179.0" y="46" width="1.0" height="25.2" fill="#e46258" opacity="0.67"/>
<rect x="180.0" y="46" width="1.0" height="24.1" fill="#e46258" opacity="0.67"/>
<rect x="181.0" y="46" width="1.0" height="27.2" fill="#e46258" opacity="0.74"/>
<rect x="182.0" y="46" width="1.0" height="24.3" fill="#e46258" opacity="0.68"/>
<rect x="183.0" y="46" width="1.0" height="27.7" fill="#e46258" opacity="0.95"/>
<rect x="184.0" y="46" width="1.0" height="26.9" fill="#e46258" opacity="0.75"/>
<rect x="185.0" y="46" width="1.0" height="24.7" fill="#e46258" opacity="0.75"/>
<rect x="186.0" y="46" width="1.0" height="25.8" fill="#e46258" opacity="0.71"/>
<rect x="187.0" y="46" width="1.0" height="25.7" fill="#e46258" opacity="0.74"/>
<rect x="188.0" y="46" width="1.0" height="28.3" fill="#e46258" opacity="0.99"/>
<rect x="189.0" y="46" width="1.0" height="26.2" fill="#e46258" opacity="0.74"/>
<rect x="190.0" y="46" width="1.0" height="28.3" fill="#e46258" opacity="0.76"/>
<rect x="191.0" y="46" width="1.0" height="25.3" fill="#e46258" opacity="0.65"/>
<rect x="192.0" y="46" width="1.0" height="25.4" fill="#e46258" opacity="0.82"/>
<rect x="193.0" y="46" width="1.0" height="26.0" fill="#e46258" opacity="0.72"/>
<rect x="194.0" y="46" width="1.0" height="26.0" fill="#e46258" opacity="0.65"/>
<rect x="195.0" y="46" width="1.0" height="24.8" fill="#e46258" opacity="0.68"/>
<rect x="196.0" y="46" width="1.0" height="25.5" fill="#e46258" opacity="0.66"/>
<rect x="197.0" y="46" width="1.0" height="23.6" fill="#e46258" opacity="0.76"/>
<rect x="198.0" y="46" width="1.0" height="24.7" fill="#e46258" opacity="0.85"/>
<rect x="199.0" y="46" width="1.0" height="26.1" fill="#e46258" opacity="0.91"/>
<rect x="200.0" y="46" width="1.0" height="26.8" fill="#e46258" opacity="0.90"/>
<rect x="201.0" y="46" width="1.0" height="27.9" fill="#e46258" opacity="0.79"/>
<rect x="202.0" y="46" width="1.0" height="25.1" fill="#e46258" opacity="0.99"/>
<rect x="203.0" y="46" width="1.0" height="24.2" fill="#e46258" opacity="0.90"/>
<rect x="204.0" y="46" width="1.0" height="26.7" fill="#e46258" opacity="0.67"/>
<rect x="205.0" y="46" width="1.0" height="27.7" fill="#e46258" opacity="0.96"/>
<rect x="206.0" y="46" width="1.0" height="26.6" fill="#e46258" opacity="0.91"/>
<rect x="207.0" y="46" width="1.0" height="27.6" fill="#e46258" opacity="0.70"/>
<rect x="208.0" y="46" width="1.0" height="26.1" fill="#e46258" opacity="0.83"/>
<rect x="209.0" y="46" width="1.0" height="27.7" fill="#e46258" opacity="0.93"/>
<rect x="210.0" y="46" width="1.0" height="27.6" fill="#e46258" opacity="0.85"/>
<rect x="211.0" y="46" width="1.0" height="28.0" fill="#e46258" opacity="0.89"/>
<rect x="212.0" y="46" width="1.0" height="27.0" fill="#e46258" opacity="0.73"/>
<rect x="213.0" y="46" width="1.0" height="23.7" fill="#e46258" opacity="0.70"/>
<rect x="214.0" y="46" width="1.0" height="25.3" fill="#e46258" opacity="0.69"/>
<rect x="215.0" y="46" width="1.0" height="27.7" fill="#e46258" opacity="0.85"/>
<rect x="216.0" y="46" width="1.0" height="26.6" fill="#e46258" opacity="0.87"/>
<rect x="217.0" y="46" width="1.0" height="26.9" fill="#e46258" opacity="0.82"/>
<rect x="331.0" y="46" width="1.0" height="22.8" fill="#e46258" opacity="0.93"/>
<rect x="332.0" y="46" width="1.0" height="26.5" fill="#e46258" opacity="0.83"/>
<rect x="333.0" y="46" width="1.0" height="25.5" fill="#e46258" opacity="0.88"/>
<rect x="334.0" y="46" width="1.0" height="23.1" fill="#e46258" opacity="0.91"/>
<rect x="335.0" y="46" width="1.0" height="24.1" fill="#e46258" opacity="0.68"/>
<rect x="336.0" y="46" width="1.0" height="24.1" fill="#e46258" opacity="0.91"/>
<rect x="337.0" y="46" width="1.0" height="23.8" fill="#e46258" opacity="0.91"/>
<rect x="338.0" y="46" width="1.0" height="27.7" fill="#e46258" opacity="0.82"/>
<rect x="339.0" y="46" width="1.0" height="24.7" fill="#e46258" opacity="0.82"/>
<rect x="340.0" y="46" width="1.0" height="26.2" fill="#e46258" opacity="0.92"/>
<rect x="341.0" y="46" width="1.0" height="25.9" fill="#e46258" opacity="0.87"/>
<rect x="342.0" y="46" width="1.0" height="23.2" fill="#e46258" opacity="0.70"/>
<rect x="343.0" y="46" width="1.0" height="24.1" fill="#e46258" opacity="0.91"/>
<rect x="344.0" y="46" width="1.0" height="24.3" fill="#e46258" opacity="0.85"/>
<rect x="345.0" y="46" width="1.0" height="22.8" fill="#e46258" opacity="0.67"/>
<rect x="346.0" y="46" width="1.0" height="24.1" fill="#e46258" opacity="0.89"/>
<rect x="347.0" y="46" width="1.0" height="26.2" fill="#e46258" opacity="0.89"/>
<rect x="348.0" y="46" width="1.0" height="24.2" fill="#e46258" opacity="0.83"/>
<rect x="349.0" y="46" width="1.0" height="25.1" fill="#e46258" opacity="0.81"/>
<rect x="350.0" y="46" width="1.0" height="23.4" fill="#e46258" opacity="0.96"/>
<rect x="351.0" y="46" width="1.0" height="23.8" fill="#e46258" opacity="0.99"/>
<rect x="352.0" y="46" width="1.0" height="27.5" fill="#e46258" opacity="0.66"/>
<rect x="353.0" y="46" width="1.0" height="25.1" fill="#e46258" opacity="0.94"/>
<rect x="354.0" y="46" width="1.0" height="27.6" fill="#e46258" opacity="0.81"/>
<rect x="355.0" y="46" width="1.0" height="24.1" fill="#e46258" opacity="0.72"/>
<rect x="356.0" y="46" width="1.0" height="27.5" fill="#e46258" opacity="0.72"/>
<rect x="357.0" y="46" width="1.0" height="25.7" fill="#e46258" opacity="0.70"/>
<rect x="358.0" y="46" width="1.0" height="25.4" fill="#e46258" opacity="0.98"/>
<rect x="359.0" y="46" width="1.0" height="23.4" fill="#e46258" opacity="0.94"/>
<rect x="360.0" y="46" width="1.0" height="25.3" fill="#e46258" opacity="0.96"/>
<rect x="361.0" y="46" width="1.0" height="26.2" fill="#e46258" opacity="0.73"/>
<rect x="362.0" y="46" width="1.0" height="27.2" fill="#e46258" opacity="0.82"/>
<rect x="363.0" y="46" width="1.0" height="22.8" fill="#e46258" opacity="0.65"/>
<rect x="364.0" y="46" width="1.0" height="25.2" fill="#e46258" opacity="0.81"/>
<rect x="365.0" y="46" width="1.0" height="24.2" fill="#e46258" opacity="0.70"/>
<rect x="366.0" y="46" width="1.0" height="24.4" fill="#e46258" opacity="0.76"/>
<rect x="367.0" y="46" width="1.0" height="26.9" fill="#e46258" opacity="0.65"/>
<rect x="368.0" y="46" width="1.0" height="26.4" fill="#e46258" opacity="0.94"/>
<rect x="369.0" y="46" width="1.0" height="23.3" fill="#e46258" opacity="0.97"/>
<rect x="370.0" y="46" width="1.0" height="26.2" fill="#e46258" opacity="0.97"/>
<rect x="371.0" y="46" width="1.0" height="24.1" fill="#e46258" opacity="0.78"/>
<rect x="372.0" y="46" width="1.0" height="24.6" fill="#e46258" opacity="1.00"/>
<rect x="373.0" y="46" width="1.0" height="25.6" fill="#e46258" opacity="0.78"/>
<rect x="374.0" y="46" width="1.0" height="24.8" fill="#e46258" opacity="0.75"/>
<rect x="375.0" y="46" width="1.0" height="22.9" fill="#e46258" opacity="0.69"/>
<rect x="376.0" y="46" width="1.0" height="26.8" fill="#e46258" opacity="0.75"/>
<rect x="377.0" y="46" width="1.0" height="27.3" fill="#e46258" opacity="0.74"/>
<rect x="378.0" y="46" width="1.0" height="23.9" fill="#e46258" opacity="0.83"/>
<rect x="379.0" y="46" width="1.0" height="23.6" fill="#e46258" opacity="0.78"/>
<rect x="380.0" y="46" width="1.0" height="27.4" fill="#e46258" opacity="0.96"/>
<rect x="381.0" y="46" width="1.0" height="26.6" fill="#e46258" opacity="0.87"/>
<rect x="382.0" y="46" width="1.0" height="27.1" fill="#e46258" opacity="0.98"/>
<rect x="383.0" y="46" width="1.0" height="25.3" fill="#e46258" opacity="0.90"/>
<rect x="384.0" y="46" width="1.0" height="22.8" fill="#e46258" opacity="0.91"/>
<rect x="385.0" y="46" width="1.0" height="24.8" fill="#e46258" opacity="0.91"/>
<rect x="386.0" y="46" width="1.0" height="25.7" fill="#e46258" opacity="0.75"/>
<rect x="387.0" y="46" width="1.0" height="22.8" fill="#e46258" opacity="0.97"/>
<rect x="388.0" y="46" width="1.0" height="23.1" fill="#e46258" opacity="0.82"/>
<rect x="389.0" y="46" width="1.0" height="24.2" fill="#e46258" opacity="0.75"/>
<rect x="390.0" y="46" width="1.0" height="26.2" fill="#e46258" opacity="0.99"/>
<rect x="391.0" y="46" width="1.0" height="23.8" fill="#e46258" opacity="0.88"/>
<rect x="392.0" y="46" width="1.0" height="24.0" fill="#e46258" opacity="0.85"/>
<rect x="393.0" y="46" width="1.0" height="24.4" fill="#e46258" opacity="0.71"/>
<rect x="394.0" y="46" width="1.0" height="23.2" fill="#e46258" opacity="0.72"/>
<rect x="395.0" y="46" width="1.0" height="26.9" fill="#e46258" opacity="0.82"/>
<rect x="396.0" y="46" width="1.0" height="23.5" fill="#e46258" opacity="0.97"/>
<rect x="397.0" y="46" width="1.0" height="27.4" fill="#e46258" opacity="0.81"/>
<rect x="398.0" y="46" width="1.0" height="23.1" fill="#e46258" opacity="0.72"/>
<rect x="399.0" y="46" width="1.0" height="22.8" fill="#e46258" opacity="0.77"/>
<rect x="400.0" y="46" width="1.0" height="22.8" fill="#e46258" opacity="0.73"/>
<rect x="401.0" y="46" width="1.0" height="23.6" fill="#e46258" opacity="0.85"/>
<rect x="402.0" y="46" width="1.0" height="26.7" fill="#e46258" opacity="0.91"/>
<rect x="403.0" y="46" width="1.0" height="24.2" fill="#e46258" opacity="0.79"/>
<rect x="404.0" y="46" width="1.0" height="24.6" fill="#e46258" opacity="0.78"/>
<rect x="405.0" y="46" width="1.0" height="23.3" fill="#e46258" opacity="0.67"/>
<rect x="406.0" y="46" width="1.0" height="22.7" fill="#e46258" opacity="0.99"/>
<rect x="407.0" y="46" width="1.0" height="21.5" fill="#e46258" opacity="0.83"/>
<rect x="408.0" y="46" width="1.0" height="23.6" fill="#e46258" opacity="0.95"/>
<rect x="409.0" y="46" width="1.0" height="21.0" fill="#e46258" opacity="0.74"/>
<rect x="410.0" y="46" width="1.0" height="20.7" fill="#e46258" opacity="0.79"/>
<rect x="411.0" y="46" width="1.0" height="21.2" fill="#e46258" opacity="0.98"/>
<rect x="412.0" y="46" width="1.0" height="22.7" fill="#e46258" opacity="0.96"/>
<rect x="413.0" y="46" width="1.0" height="18.2" fill="#e46258" opacity="0.66"/>
<rect x="414.0" y="46" width="1.0" height="21.2" fill="#e46258" opacity="0.96"/>
<rect x="415.0" y="46" width="1.0" height="19.7" fill="#e46258" opacity="0.86"/>
<rect x="416.0" y="46" width="1.0" height="17.0" fill="#e46258" opacity="0.79"/>
<rect x="417.0" y="46" width="1.0" height="21.3" fill="#e46258" opacity="0.94"/>
<rect x="418.0" y="46" width="1.0" height="20.6" fill="#e46258" opacity="0.99"/>
<rect x="419.0" y="46" width="1.0" height="17.3" fill="#e46258" opacity="0.69"/>
<rect x="420.0" y="46" width="1.0" height="16.5" fill="#e46258" opacity="0.83"/>
<rect x="421.0" y="46" width="1.0" height="18.8" fill="#e46258" opacity="0.98"/>
<rect x="422.0" y="46" width="1.0" height="18.7" fill="#e46258" opacity="0.88"/>
<rect x="423.0" y="46" width="1.0" height="18.6" fill="#e46258" opacity="0.81"/>
<rect x="424.0" y="46" width="1.0" height="17.3" fill="#e46258" opacity="0.66"/>
<rect x="425.0" y="46" width="1.0" height="18.1" fill="#e46258" opacity="0.73"/>
<rect x="426.0" y="46" width="1.0" height="18.5" fill="#e46258" opacity="0.88"/>
<rect x="427.0" y="46" width="1.0" height="15.2" fill="#e46258" opacity="0.69"/>
<rect x="428.0" y="46" width="1.0" height="14.7" fill="#e46258" opacity="0.87"/>
<rect x="429.0" y="46" width="1.0" height="16.6" fill="#e46258" opacity="0.69"/>
<rect x="430.0" y="46" width="1.0" height="13.2" fill="#e46258" opacity="0.83"/>
<rect x="431.0" y="46" width="1.0" height="15.5" fill="#e46258" opacity="0.79"/>
<rect x="432.0" y="46" width="1.0" height="13.5" fill="#e46258" opacity="0.86"/>
<rect x="433.0" y="46" width="1.0" height="12.2" fill="#e46258" opacity="0.76"/>
<rect x="434.0" y="46" width="1.0" height="14.2" fill="#e46258" opacity="0.99"/>
<rect x="435.0" y="46" width="1.0" height="14.9" fill="#e46258" opacity="0.96"/>
<rect x="436.0" y="46" width="1.0" height="13.8" fill="#e46258" opacity="0.73"/>
<rect x="437.0" y="46" width="1.0" height="12.4" fill="#e46258" opacity="0.99"/>
<rect x="438.0" y="46" width="1.0" height="14.5" fill="#e46258" opacity="0.76"/>
<rect x="439.0" y="46" width="1.0" height="10.9" fill="#e46258" opacity="0.82"/>
<rect x="440.0" y="46" width="1.0" height="13.9" fill="#e46258" opacity="0.80"/>
<rect x="441.0" y="46" width="1.0" height="11.6" fill="#e46258" opacity="0.88"/>
<rect x="442.0" y="46" width="1.0" height="14.8" fill="#e46258" opacity="0.73"/>
<rect x="443.0" y="46" width="1.0" height="10.1" fill="#e46258" opacity="0.77"/>
<rect x="444.0" y="46" width="1.0" height="11.8" fill="#e46258" opacity="0.89"/>
<rect x="445.0" y="46" width="1.0" height="10.5" fill="#e46258" opacity="0.93"/>
</g></g>
<g clip-path="url(#cD)"><g filter="url(#bl)">
<rect x="72.0" y="46" width="2" height="240" fill="#fff" opacity="0.10"/>
<rect x="74.0" y="46" width="1" height="240" fill="#fff" opacity="0.14"/>
<rect x="75.0" y="46" width="1" height="240" fill="#fff" opacity="0.07"/>
<rect x="76.0" y="46" width="1" height="240" fill="#fff" opacity="0.11"/>
<rect x="77.0" y="46" width="2" height="240" fill="#fff" opacity="0.07"/>
<rect x="82.5" y="46" width="1" height="240" fill="#fff" opacity="0.16"/>
<rect x="83.5" y="46" width="1" height="240" fill="#fff" opacity="0.13"/>
<rect x="84.5" y="46" width="1" height="240" fill="#fff" opacity="0.15"/>
<rect x="87.5" y="46" width="1" height="240" fill="#fff" opacity="0.12"/>
<rect x="90.5" y="46" width="1" height="240" fill="#fff" opacity="0.13"/>
<rect x="92.5" y="46" width="1.5" height="240" fill="#fff" opacity="0.04"/>
<rect x="94.0" y="46" width="1" height="240" fill="#fff" opacity="0.09"/>
<rect x="95.0" y="46" width="1" height="240" fill="#036" opacity="0.03"/>
<rect x="96.0" y="46" width="1.5" height="240" fill="#fff" opacity="0.14"/>
<rect x="97.5" y="46" width="1.5" height="240" fill="#fff" opacity="0.12"/>
<rect x="99.0" y="46" width="1" height="240" fill="#fff" opacity="0.15"/>
<rect x="100.0" y="46" width="1" height="240" fill="#fff" opacity="0.13"/>
<rect x="101.0" y="46" width="1.5" height="240" fill="#fff" opacity="0.09"/>
<rect x="102.5" y="46" width="1.5" height="240" fill="#fff" opacity="0.04"/>
<rect x="105.0" y="46" width="1" height="240" fill="#fff" opacity="0.13"/>
<rect x="106.0" y="46" width="2" height="240" fill="#fff" opacity="0.07"/>
<rect x="108.0" y="46" width="2" height="240" fill="#fff" opacity="0.13"/>
<rect x="111.0" y="46" width="1" height="240" fill="#fff" opacity="0.13"/>
<rect x="112.0" y="46" width="1" height="240" fill="#fff" opacity="0.07"/>
<rect x="120.0" y="46" width="1" height="240" fill="#fff" opacity="0.15"/>
<rect x="122.0" y="46" width="1" height="240" fill="#036" opacity="0.02"/>
<rect x="123.0" y="46" width="1" height="240" fill="#fff" opacity="0.13"/>
<rect x="124.0" y="46" width="2" height="240" fill="#fff" opacity="0.06"/>
<rect x="126.0" y="46" width="1" height="240" fill="#fff" opacity="0.05"/>
<rect x="127.0" y="46" width="1" height="240" fill="#fff" opacity="0.11"/>
<rect x="130.0" y="46" width="1" height="240" fill="#036" opacity="0.02"/>
<rect x="131.0" y="46" width="1.5" height="240" fill="#fff" opacity="0.13"/>
<rect x="132.5" y="46" width="1.5" height="240" fill="#fff" opacity="0.06"/>
<rect x="134.0" y="46" width="1.5" height="240" fill="#036" opacity="0.03"/>
<rect x="138.5" y="46" width="1" height="240" fill="#fff" opacity="0.11"/>
<rect x="139.5" y="46" width="1" height="240" fill="#fff" opacity="0.07"/>
<rect x="140.5" y="46" width="1.5" height="240" fill="#fff" opacity="0.07"/>
<rect x="142.0" y="46" width="1" height="240" fill="#fff" opacity="0.15"/>
<rect x="143.0" y="46" width="1" height="240" fill="#fff" opacity="0.09"/>
<rect x="144.0" y="46" width="1" height="240" fill="#036" opacity="0.02"/>
<rect x="145.0" y="46" width="1" height="240" fill="#036" opacity="0.03"/>
<rect x="146.0" y="46" width="1" height="240" fill="#fff" opacity="0.15"/>
<rect x="148.0" y="46" width="1" height="240" fill="#fff" opacity="0.08"/>
<rect x="149.0" y="46" width="1" height="240" fill="#fff" opacity="0.11"/>
<rect x="150.0" y="46" width="2" height="240" fill="#fff" opacity="0.05"/>
<rect x="154.0" y="46" width="1.5" height="240" fill="#036" opacity="0.03"/>
<rect x="155.5" y="46" width="1" height="240" fill="#fff" opacity="0.11"/>
<rect x="156.5" y="46" width="2" height="240" fill="#fff" opacity="0.04"/>
<rect x="158.5" y="46" width="1" height="240" fill="#fff" opacity="0.06"/>
<rect x="159.5" y="46" width="1" height="240" fill="#fff" opacity="0.13"/>
<rect x="161.5" y="46" width="1" height="240" fill="#fff" opacity="0.08"/>
<rect x="162.5" y="46" width="2" height="240" fill="#fff" opacity="0.06"/>
<rect x="164.5" y="46" width="1.5" height="240" fill="#036" opacity="0.01"/>
<rect x="167.0" y="46" width="2" height="240" fill="#fff" opacity="0.10"/>
<rect x="169.0" y="46" width="1" height="240" fill="#fff" opacity="0.07"/>
<rect x="170.0" y="46" width="1" height="240" fill="#036" opacity="0.02"/>
<rect x="171.0" y="46" width="1" height="240" fill="#fff" opacity="0.11"/>
<rect x="172.0" y="46" width="1" height="240" fill="#fff" opacity="0.04"/>
<rect x="173.0" y="46" width="1" height="240" fill="#036" opacity="0.02"/>
<rect x="174.0" y="46" width="1.5" height="240" fill="#fff" opacity="0.04"/>
<rect x="175.5" y="46" width="1" height="240" fill="#fff" opacity="0.14"/>
<rect x="176.5" y="46" width="1.5" height="240" fill="#036" opacity="0.02"/>
<rect x="178.0" y="46" width="1" height="240" fill="#fff" opacity="0.05"/>
<rect x="179.0" y="46" width="1" height="240" fill="#036" opacity="0.03"/>
<rect x="180.0" y="46" width="1" height="240" fill="#036" opacity="0.03"/>
<rect x="181.0" y="46" width="2" height="240" fill="#fff" opacity="0.08"/>
<rect x="183.0" y="46" width="1" height="240" fill="#036" opacity="0.03"/>
<rect x="184.0" y="46" width="1" height="240" fill="#fff" opacity="0.13"/>
<rect x="185.0" y="46" width="1" height="240" fill="#fff" opacity="0.14"/>
<rect x="187.0" y="46" width="1.5" height="240" fill="#fff" opacity="0.11"/>
<rect x="188.5" y="46" width="1.5" height="240" fill="#fff" opacity="0.13"/>
<rect x="190.0" y="46" width="1" height="240" fill="#036" opacity="0.03"/>
<rect x="191.0" y="46" width="2" height="240" fill="#fff" opacity="0.14"/>
<rect x="193.0" y="46" width="1.5" height="240" fill="#fff" opacity="0.07"/>
<rect x="196.0" y="46" width="1" height="240" fill="#fff" opacity="0.05"/>
<rect x="198.0" y="46" width="1" height="240" fill="#fff" opacity="0.11"/>
<rect x="199.0" y="46" width="1" height="240" fill="#036" opacity="0.02"/>
<rect x="200.0" y="46" width="1.5" height="240" fill="#036" opacity="0.02"/>
<rect x="201.5" y="46" width="1" height="240" fill="#036" opacity="0.02"/>
<rect x="202.5" y="46" width="1" height="240" fill="#fff" opacity="0.12"/>
<rect x="203.5" y="46" width="1.5" height="240" fill="#036" opacity="0.01"/>
<rect x="205.0" y="46" width="1" height="240" fill="#036" opacity="0.02"/>
<rect x="206.0" y="46" width="1" height="240" fill="#fff" opacity="0.11"/>
<rect x="208.5" y="46" width="1.5" height="240" fill="#fff" opacity="0.05"/>
<rect x="210.0" y="46" width="1" height="240" fill="#fff" opacity="0.05"/>
<rect x="211.0" y="46" width="1.5" height="240" fill="#036" opacity="0.03"/>
<rect x="212.5" y="46" width="1" height="240" fill="#036" opacity="0.01"/>
<rect x="214.5" y="46" width="2" height="240" fill="#fff" opacity="0.13"/>
<rect x="216.5" y="46" width="1.5" height="240" fill="#036" opacity="0.03"/>
<rect x="221.0" y="46" width="1" height="240" fill="#fff" opacity="0.16"/>
<rect x="222.0" y="46" width="1.5" height="240" fill="#fff" opacity="0.14"/>
<rect x="223.5" y="46" width="1" height="240" fill="#036" opacity="0.03"/>
<rect x="224.5" y="46" width="1" height="240" fill="#fff" opacity="0.08"/>
<rect x="225.5" y="46" width="1" height="240" fill="#fff" opacity="0.15"/>
<rect x="227.5" y="46" width="1.5" height="240" fill="#fff" opacity="0.10"/>
<rect x="229.0" y="46" width="1.5" height="240" fill="#fff" opacity="0.07"/>
<rect x="230.5" y="46" width="2" height="240" fill="#fff" opacity="0.08"/>
<rect x="232.5" y="46" width="1" height="240" fill="#fff" opacity="0.06"/>
<rect x="233.5" y="46" width="1" height="240" fill="#036" opacity="0.03"/>
<rect x="235.5" y="46" width="1" height="240" fill="#fff" opacity="0.10"/>
<rect x="237.5" y="46" width="1.5" height="240" fill="#036" opacity="0.02"/>
<rect x="239.0" y="46" width="1" height="240" fill="#fff" opacity="0.10"/>
<rect x="241.5" y="46" width="1" height="240" fill="#fff" opacity="0.16"/>
<rect x="242.5" y="46" width="2" height="240" fill="#fff" opacity="0.08"/>
<rect x="244.5" y="46" width="1" height="240" fill="#fff" opacity="0.06"/>
<rect x="245.5" y="46" width="1" height="240" fill="#fff" opacity="0.10"/>
<rect x="246.5" y="46" width="1" height="240" fill="#036" opacity="0.03"/>
<rect x="250.5" y="46" width="1" height="240" fill="#fff" opacity="0.07"/>
<rect x="251.5" y="46" width="1.5" height="240" fill="#fff" opacity="0.08"/>
<rect x="253.0" y="46" width="1" height="240" fill="#fff" opacity="0.07"/>
<rect x="254.0" y="46" width="1" height="240" fill="#fff" opacity="0.04"/>
<rect x="255.0" y="46" width="1" height="240" fill="#fff" opacity="0.10"/>
<rect x="256.0" y="46" width="2" height="240" fill="#fff" opacity="0.11"/>
<rect x="258.0" y="46" width="2" height="240" fill="#fff" opacity="0.08"/>
<rect x="260.0" y="46" width="1.5" height="240" fill="#fff" opacity="0.04"/>
<rect x="262.5" y="46" width="1.5" height="240" fill="#fff" opacity="0.12"/>
<rect x="264.0" y="46" width="1" height="240" fill="#fff" opacity="0.07"/>
<rect x="265.0" y="46" width="1" height="240" fill="#fff" opacity="0.14"/>
<rect x="266.0" y="46" width="1" height="240" fill="#036" opacity="0.02"/>
<rect x="269.0" y="46" width="1.5" height="240" fill="#fff" opacity="0.15"/>
<rect x="270.5" y="46" width="1" height="240" fill="#fff" opacity="0.04"/>
<rect x="271.5" y="46" width="1" height="240" fill="#fff" opacity="0.05"/>
<rect x="272.5" y="46" width="1" height="240" fill="#fff" opacity="0.11"/>
<rect x="273.5" y="46" width="1" height="240" fill="#fff" opacity="0.06"/>
<rect x="274.5" y="46" width="2" height="240" fill="#036" opacity="0.03"/>
<rect x="278.0" y="46" width="1" height="240" fill="#036" opacity="0.01"/>
<rect x="281.5" y="46" width="1" height="240" fill="#fff" opacity="0.09"/>
<rect x="282.5" y="46" width="1.5" height="240" fill="#fff" opacity="0.12"/>
<rect x="284.0" y="46" width="1" height="240" fill="#fff" opacity="0.05"/>
<rect x="285.0" y="46" width="1" height="240" fill="#036" opacity="0.01"/>
<rect x="287.0" y="46" width="1" height="240" fill="#036" opacity="0.03"/>
<rect x="290.0" y="46" width="1" height="240" fill="#036" opacity="0.03"/>
<rect x="291.0" y="46" width="1" height="240" fill="#fff" opacity="0.10"/>
<rect x="292.0" y="46" width="1" height="240" fill="#fff" opacity="0.07"/>
<rect x="294.0" y="46" width="1" height="240" fill="#fff" opacity="0.09"/>
<rect x="295.0" y="46" width="2" height="240" fill="#fff" opacity="0.15"/>
<rect x="297.0" y="46" width="2" height="240" fill="#fff" opacity="0.14"/>
<rect x="301.5" y="46" width="1" height="240" fill="#036" opacity="0.02"/>
<rect x="302.5" y="46" width="1" height="240" fill="#fff" opacity="0.11"/>
<rect x="305.5" y="46" width="1" height="240" fill="#fff" opacity="0.05"/>
<rect x="309.5" y="46" width="1" height="240" fill="#fff" opacity="0.06"/>
<rect x="310.5" y="46" width="1" height="240" fill="#036" opacity="0.03"/>
<rect x="312.5" y="46" width="1" height="240" fill="#fff" opacity="0.15"/>
<rect x="316.5" y="46" width="1.5" height="240" fill="#fff" opacity="0.06"/>
<rect x="318.0" y="46" width="1" height="240" fill="#fff" opacity="0.15"/>
<rect x="320.0" y="46" width="1" height="240" fill="#fff" opacity="0.06"/>
<rect x="321.0" y="46" width="1" height="240" fill="#fff" opacity="0.08"/>
<rect x="322.0" y="46" width="1" height="240" fill="#fff" opacity="0.07"/>
<rect x="323.0" y="46" width="1" height="240" fill="#fff" opacity="0.13"/>
<rect x="325.0" y="46" width="2" height="240" fill="#036" opacity="0.03"/>
<rect x="329.0" y="46" width="1.5" height="240" fill="#fff" opacity="0.10"/>
<rect x="330.5" y="46" width="1" height="240" fill="#fff" opacity="0.12"/>
<rect x="331.5" y="46" width="2" height="240" fill="#036" opacity="0.03"/>
<rect x="333.5" y="46" width="1" height="240" fill="#036" opacity="0.02"/>
<rect x="334.5" y="46" width="1.5" height="240" fill="#fff" opacity="0.06"/>
<rect x="336.0" y="46" width="1" height="240" fill="#fff" opacity="0.10"/>
<rect x="337.0" y="46" width="1.5" height="240" fill="#036" opacity="0.03"/>
<rect x="338.5" y="46" width="1.5" height="240" fill="#036" opacity="0.03"/>
<rect x="340.0" y="46" width="2" height="240" fill="#fff" opacity="0.15"/>
<rect x="343.0" y="46" width="1" height="240" fill="#fff" opacity="0.05"/>
<rect x="344.0" y="46" width="1" height="240" fill="#fff" opacity="0.16"/>
<rect x="347.0" y="46" width="1" height="240" fill="#fff" opacity="0.09"/>
<rect x="349.5" y="46" width="1" height="240" fill="#fff" opacity="0.12"/>
<rect x="350.5" y="46" width="1" height="240" fill="#fff" opacity="0.07"/>
<rect x="351.5" y="46" width="2" height="240" fill="#036" opacity="0.02"/>
<rect x="354.5" y="46" width="1" height="240" fill="#036" opacity="0.03"/>
<rect x="355.5" y="46" width="2" height="240" fill="#036" opacity="0.02"/>
<rect x="357.5" y="46" width="1" height="240" fill="#036" opacity="0.03"/>
<rect x="358.5" y="46" width="1.5" height="240" fill="#036" opacity="0.03"/>
<rect x="360.0" y="46" width="1" height="240" fill="#fff" opacity="0.12"/>
<rect x="361.0" y="46" width="1" height="240" fill="#036" opacity="0.01"/>
<rect x="362.0" y="46" width="1.5" height="240" fill="#036" opacity="0.03"/>
<rect x="363.5" y="46" width="2" height="240" fill="#fff" opacity="0.08"/>
<rect x="365.5" y="46" width="2" height="240" fill="#fff" opacity="0.06"/>
<rect x="368.5" y="46" width="2" height="240" fill="#036" opacity="0.01"/>
<rect x="372.5" y="46" width="1" height="240" fill="#fff" opacity="0.12"/>
<rect x="373.5" y="46" width="1" height="240" fill="#fff" opacity="0.16"/>
<rect x="375.5" y="46" width="1.5" height="240" fill="#fff" opacity="0.05"/>
<rect x="377.0" y="46" width="1" height="240" fill="#fff" opacity="0.15"/>
<rect x="378.0" y="46" width="1.5" height="240" fill="#fff" opacity="0.09"/>
<rect x="379.5" y="46" width="1.5" height="240" fill="#036" opacity="0.02"/>
<rect x="381.0" y="46" width="1" height="240" fill="#fff" opacity="0.06"/>
<rect x="392.0" y="46" width="1" height="240" fill="#036" opacity="0.02"/>
<rect x="393.0" y="46" width="1" height="240" fill="#fff" opacity="0.12"/>
<rect x="394.0" y="46" width="1.5" height="240" fill="#fff" opacity="0.09"/>
<rect x="395.5" y="46" width="1" height="240" fill="#fff" opacity="0.09"/>
<rect x="396.5" y="46" width="1.5" height="240" fill="#fff" opacity="0.14"/>
<rect x="398.0" y="46" width="2" height="240" fill="#036" opacity="0.03"/>
<rect x="403.5" y="46" width="1" height="240" fill="#fff" opacity="0.11"/>
<rect x="405.5" y="46" width="1" height="240" fill="#036" opacity="0.01"/>
<rect x="406.5" y="46" width="2" height="240" fill="#fff" opacity="0.06"/>
<rect x="408.5" y="46" width="1.5" height="240" fill="#036" opacity="0.03"/>
<rect x="410.0" y="46" width="1" height="240" fill="#036" opacity="0.02"/>
<rect x="411.0" y="46" width="1.5" height="240" fill="#fff" opacity="0.12"/>
<rect x="412.5" y="46" width="1.5" height="240" fill="#036" opacity="0.03"/>
<rect x="414.0" y="46" width="2" height="240" fill="#fff" opacity="0.05"/>
<rect x="416.0" y="46" width="1" height="240" fill="#fff" opacity="0.05"/>
<rect x="417.0" y="46" width="1" height="240" fill="#fff" opacity="0.09"/>
<rect x="418.0" y="46" width="1" height="240" fill="#036" opacity="0.01"/>
<rect x="422.0" y="46" width="1.5" height="240" fill="#fff" opacity="0.06"/>
<rect x="424.5" y="46" width="1" height="240" fill="#fff" opacity="0.11"/>
<rect x="426.5" y="46" width="1" height="240" fill="#fff" opacity="0.12"/>
<rect x="427.5" y="46" width="1.5" height="240" fill="#fff" opacity="0.08"/>
<rect x="429.0" y="46" width="2" height="240" fill="#036" opacity="0.03"/>
<rect x="431.0" y="46" width="1.5" height="240" fill="#fff" opacity="0.14"/>
<rect x="434.5" y="46" width="1" height="240" fill="#fff" opacity="0.14"/>
<rect x="435.5" y="46" width="1" height="240" fill="#fff" opacity="0.12"/>
<rect x="436.5" y="46" width="1" height="240" fill="#fff" opacity="0.09"/>
<rect x="437.5" y="46" width="1" height="240" fill="#036" opacity="0.02"/>
<rect x="439.5" y="46" width="1" height="240" fill="#fff" opacity="0.11"/>
<rect x="441.5" y="46" width="1" height="240" fill="#036" opacity="0.02"/>
<rect x="442.5" y="46" width="2" height="240" fill="#fff" opacity="0.04"/>
<rect x="444.5" y="46" width="1" height="240" fill="#036" opacity="0.02"/>
<rect x="445.5" y="46" width="1" height="240" fill="#036" opacity="0.03"/>
</g></g>
<g clip-path="url(#cG)"><g filter="url(#bl)">
<rect x="164.0" y="46" width="1" height="125" fill="#fff" opacity="0.23"/>
<rect x="166.6" y="46" width="1" height="125" fill="#fff" opacity="0.12"/>
<rect x="170.0" y="46" width="1.2" height="125" fill="#fff" opacity="0.11"/>
<rect x="172.4" y="46" width="1.2" height="125" fill="#fff" opacity="0.25"/>
<rect x="175.2" y="46" width="1" height="125" fill="#fff" opacity="0.17"/>
<rect x="177.6" y="46" width="1.2" height="125" fill="#fff" opacity="0.09"/>
<rect x="181.2" y="46" width="1.2" height="125" fill="#fff" opacity="0.25"/>
<rect x="183.6" y="46" width="1" height="125" fill="#fff" opacity="0.16"/>
<rect x="186.0" y="46" width="1" height="125" fill="#fff" opacity="0.17"/>
<rect x="188.2" y="46" width="1" height="125" fill="#fff" opacity="0.17"/>
<rect x="190.6" y="46" width="1.2" height="125" fill="#fff" opacity="0.17"/>
<rect x="194.2" y="46" width="1" height="125" fill="#fff" opacity="0.18"/>
<rect x="196.4" y="46" width="1" height="125" fill="#fff" opacity="0.24"/>
<rect x="199.8" y="46" width="1.2" height="125" fill="#fff" opacity="0.19"/>
<rect x="202.6" y="46" width="1" height="125" fill="#fff" opacity="0.15"/>
<rect x="206.0" y="46" width="1.2" height="125" fill="#fff" opacity="0.09"/>
<rect x="208.8" y="46" width="1.2" height="125" fill="#fff" opacity="0.20"/>
<rect x="211.2" y="46" width="1.2" height="125" fill="#fff" opacity="0.09"/>
<rect x="214.0" y="46" width="1" height="125" fill="#fff" opacity="0.18"/>
<rect x="217.4" y="46" width="1" height="125" fill="#fff" opacity="0.09"/>
<rect x="220.8" y="46" width="1.2" height="125" fill="#fff" opacity="0.10"/>
<rect x="223.2" y="46" width="1.2" height="125" fill="#fff" opacity="0.15"/>
<rect x="226.8" y="46" width="1.2" height="125" fill="#fff" opacity="0.19"/>
<rect x="229.4" y="46" width="1" height="125" fill="#fff" opacity="0.16"/>
<rect x="232.8" y="46" width="1" height="125" fill="#fff" opacity="0.19"/>
<rect x="235.4" y="46" width="1" height="125" fill="#fff" opacity="0.15"/>
<rect x="238.8" y="46" width="1" height="125" fill="#fff" opacity="0.14"/>
<rect x="241.4" y="46" width="1.2" height="125" fill="#fff" opacity="0.15"/>
<rect x="244.0" y="46" width="1.2" height="125" fill="#fff" opacity="0.17"/>
<rect x="246.4" y="46" width="1" height="125" fill="#fff" opacity="0.12"/>
<rect x="249.0" y="46" width="1" height="125" fill="#fff" opacity="0.19"/>
<rect x="251.2" y="46" width="1" height="125" fill="#fff" opacity="0.16"/>
<rect x="254.6" y="46" width="1.2" height="125" fill="#fff" opacity="0.19"/>
<rect x="258.2" y="46" width="1" height="125" fill="#fff" opacity="0.10"/>
<rect x="260.4" y="46" width="1" height="125" fill="#fff" opacity="0.24"/>
<rect x="263.8" y="46" width="1.2" height="125" fill="#fff" opacity="0.23"/>
<rect x="266.2" y="46" width="1.2" height="125" fill="#fff" opacity="0.25"/>
<rect x="269.8" y="46" width="1.2" height="125" fill="#fff" opacity="0.11"/>
<rect x="272.2" y="46" width="1" height="125" fill="#fff" opacity="0.09"/>
<rect x="275.6" y="46" width="1.2" height="125" fill="#fff" opacity="0.22"/>
<rect x="278.0" y="46" width="1.2" height="125" fill="#fff" opacity="0.11"/>
<rect x="280.4" y="46" width="1" height="125" fill="#fff" opacity="0.23"/>
<rect x="282.6" y="46" width="1" height="125" fill="#fff" opacity="0.25"/>
<rect x="285.0" y="46" width="1" height="125" fill="#fff" opacity="0.19"/>
<rect x="287.6" y="46" width="1" height="125" fill="#fff" opacity="0.12"/>
<rect x="289.8" y="46" width="1" height="125" fill="#fff" opacity="0.08"/>
<rect x="292.0" y="46" width="1" height="125" fill="#fff" opacity="0.19"/>
<rect x="294.2" y="46" width="1" height="125" fill="#fff" opacity="0.23"/>
<rect x="297.6" y="46" width="1.2" height="125" fill="#fff" opacity="0.21"/>
<rect x="301.2" y="46" width="1" height="125" fill="#fff" opacity="0.09"/>
<rect x="304.6" y="46" width="1.2" height="125" fill="#fff" opacity="0.19"/>
<rect x="307.2" y="46" width="1" height="125" fill="#fff" opacity="0.23"/>
<rect x="309.4" y="46" width="1" height="125" fill="#fff" opacity="0.20"/>
<rect x="311.8" y="46" width="1" height="125" fill="#fff" opacity="0.20"/>
<rect x="315.2" y="46" width="1" height="125" fill="#fff" opacity="0.08"/>
<rect x="317.4" y="46" width="1" height="125" fill="#fff" opacity="0.12"/>
<rect x="319.6" y="46" width="1" height="125" fill="#fff" opacity="0.17"/>
<rect x="322.2" y="46" width="1.2" height="125" fill="#fff" opacity="0.19"/>
<rect x="325.8" y="46" width="1.2" height="125" fill="#fff" opacity="0.22"/>
<rect x="328.2" y="46" width="1" height="125" fill="#fff" opacity="0.23"/>
<rect x="330.6" y="46" width="1.2" height="125" fill="#fff" opacity="0.22"/>
<rect x="333.4" y="46" width="1.2" height="125" fill="#fff" opacity="0.19"/>
<rect x="337.0" y="46" width="1" height="125" fill="#fff" opacity="0.21"/>
<rect x="339.6" y="46" width="1" height="125" fill="#fff" opacity="0.22"/>
<rect x="341.8" y="46" width="1" height="125" fill="#fff" opacity="0.08"/>
<rect x="344.0" y="46" width="1" height="125" fill="#fff" opacity="0.14"/>
<rect x="346.4" y="46" width="1" height="125" fill="#fff" opacity="0.20"/>
<rect x="349.0" y="46" width="1" height="125" fill="#fff" opacity="0.26"/>
<rect x="352.4" y="46" width="1" height="125" fill="#fff" opacity="0.21"/>
<rect x="354.8" y="46" width="1" height="125" fill="#fff" opacity="0.15"/>
<rect x="357.2" y="46" width="1.2" height="125" fill="#fff" opacity="0.23"/>
<rect x="360.8" y="46" width="1" height="125" fill="#fff" opacity="0.23"/>
<rect x="364.2" y="46" width="1" height="125" fill="#fff" opacity="0.23"/>
<rect x="366.8" y="46" width="1" height="125" fill="#fff" opacity="0.13"/>
<rect x="369.4" y="46" width="1.2" height="125" fill="#fff" opacity="0.22"/>
<rect x="371.8" y="46" width="1" height="125" fill="#fff" opacity="0.19"/>
<rect x="374.4" y="46" width="1.2" height="125" fill="#fff" opacity="0.16"/>
<rect x="377.0" y="46" width="1" height="125" fill="#fff" opacity="0.15"/>
<rect x="380.4" y="46" width="1.2" height="125" fill="#fff" opacity="0.23"/>
<rect x="383.0" y="46" width="1" height="125" fill="#fff" opacity="0.13"/>
<rect x="385.2" y="46" width="1" height="125" fill="#fff" opacity="0.13"/>
<rect x="388.6" y="46" width="1" height="125" fill="#fff" opacity="0.19"/>
<rect x="390.8" y="46" width="1" height="125" fill="#fff" opacity="0.24"/>
<rect x="393.2" y="46" width="1" height="125" fill="#fff" opacity="0.27"/>
<rect x="396.6" y="46" width="1" height="125" fill="#fff" opacity="0.18"/>
<rect x="400.0" y="46" width="1" height="125" fill="#fff" opacity="0.12"/>
<rect x="402.4" y="46" width="1" height="125" fill="#fff" opacity="0.20"/>
<rect x="405.8" y="46" width="1" height="125" fill="#fff" opacity="0.21"/>
<rect x="408.4" y="46" width="1.2" height="125" fill="#fff" opacity="0.22"/>
<rect x="412.0" y="46" width="1" height="125" fill="#fff" opacity="0.18"/>
<rect x="414.6" y="46" width="1" height="125" fill="#fff" opacity="0.12"/>
<rect x="417.2" y="46" width="1.2" height="125" fill="#fff" opacity="0.14"/>
<rect x="419.8" y="46" width="1" height="125" fill="#fff" opacity="0.12"/>
<rect x="422.0" y="46" width="1" height="125" fill="#fff" opacity="0.23"/>
<rect x="424.6" y="46" width="1" height="125" fill="#fff" opacity="0.19"/>
<rect x="427.2" y="46" width="1" height="125" fill="#fff" opacity="0.23"/>
<rect x="429.6" y="46" width="1" height="125" fill="#fff" opacity="0.09"/>
<rect x="433.0" y="46" width="1" height="125" fill="#fff" opacity="0.24"/>
<rect x="435.6" y="46" width="1.2" height="125" fill="#fff" opacity="0.17"/>
<rect x="438.0" y="46" width="1" height="125" fill="#fff" opacity="0.14"/>
<rect x="440.2" y="46" width="1" height="125" fill="#fff" opacity="0.13"/>
<rect x="442.4" y="46" width="1" height="125" fill="#fff" opacity="0.09"/>
<rect x="445.8" y="46" width="1.2" height="125" fill="#fff" opacity="0.19"/>
</g></g>
<filter id="bl3" x="-5%" y="-5%" width="110%" height="110%"><feGaussianBlur stdDeviation="0.7 0.4"/></filter>
<g clip-path="url(#cR)"><g filter="url(#bl3)">
<rect x="72.6" y="51.1" width="1.3" height="70" fill="#ffe4e0" opacity="0.34"/>
<rect x="73.9" y="47" width="1.2" height="38.8" fill="#e04038" opacity="0.19"/>
<rect x="75.4" y="48.4" width="1.3" height="70" fill="#ffe4e0" opacity="0.18"/>
<rect x="76.7" y="47" width="1.2" height="12.4" fill="#e04038" opacity="0.14"/>
<rect x="77.2" y="47" width="1" height="19.8" fill="#a0b060" opacity="0.22"/>
<rect x="78.6" y="57.3" width="1.3" height="70" fill="#ffe4e0" opacity="0.24"/>
<rect x="81.8" y="55.8" width="1.3" height="70" fill="#ffe4e0" opacity="0.34"/>
<rect x="83.1" y="47" width="1.2" height="20.1" fill="#e04038" opacity="0.16"/>
<rect x="83.6" y="47" width="1" height="13.6" fill="#a0b060" opacity="0.29"/>
<rect x="84.6" y="49.8" width="1.3" height="70" fill="#ffe4e0" opacity="0.23"/>
<rect x="87.4" y="58.4" width="1.3" height="70" fill="#ffe4e0" opacity="0.16"/>
<rect x="89.2" y="47" width="1" height="5.5" fill="#a0b060" opacity="0.22"/>
<rect x="89.8" y="53.6" width="1.3" height="70" fill="#ffe4e0" opacity="0.18"/>
<rect x="93.0" y="49.6" width="1.3" height="70" fill="#ffe4e0" opacity="0.13"/>
<rect x="96.0" y="52.9" width="1.3" height="70" fill="#ffe4e0" opacity="0.26"/>
<rect x="99.0" y="49.4" width="1.3" height="70" fill="#ffe4e0" opacity="0.18"/>
<rect x="100.3" y="47" width="1.2" height="20.4" fill="#e04038" opacity="0.13"/>
<rect x="100.8" y="47" width="1" height="5.2" fill="#a0b060" opacity="0.24"/>
<rect x="101.8" y="49.7" width="1.3" height="70" fill="#ffe4e0" opacity="0.31"/>
<rect x="103.6" y="47" width="1" height="11.3" fill="#a0b060" opacity="0.23"/>
<rect x="104.6" y="58.5" width="1.3" height="70" fill="#ffe4e0" opacity="0.31"/>
<rect x="107.0" y="53.0" width="1.3" height="70" fill="#ffe4e0" opacity="0.27"/>
<rect x="108.3" y="47" width="1.2" height="32.8" fill="#e04038" opacity="0.26"/>
<rect x="109.8" y="56.1" width="1.3" height="70" fill="#ffe4e0" opacity="0.20"/>
<rect x="111.1" y="47" width="1.2" height="54.2" fill="#e04038" opacity="0.19"/>
<rect x="112.6" y="52.5" width="1.3" height="70" fill="#ffe4e0" opacity="0.18"/>
<rect x="113.9" y="47" width="1.2" height="51.7" fill="#e04038" opacity="0.15"/>
<rect x="115.4" y="49.2" width="1.3" height="70" fill="#ffe4e0" opacity="0.18"/>
<rect x="116.7" y="47" width="1.2" height="16.0" fill="#e04038" opacity="0.20"/>
<rect x="118.2" y="57.2" width="1.3" height="70" fill="#ffe4e0" opacity="0.25"/>
<rect x="119.5" y="47" width="1.2" height="58.5" fill="#e04038" opacity="0.25"/>
<rect x="121.2" y="58.2" width="1.3" height="70" fill="#ffe4e0" opacity="0.36"/>
<rect x="122.5" y="47" width="1.2" height="54.6" fill="#e04038" opacity="0.16"/>
<rect x="123.0" y="47" width="1" height="10.0" fill="#a0b060" opacity="0.25"/>
<rect x="123.6" y="53.6" width="1.3" height="70" fill="#ffe4e0" opacity="0.23"/>
<rect x="124.9" y="47" width="1.2" height="49.1" fill="#e04038" opacity="0.19"/>
<rect x="126.6" y="52.8" width="1.3" height="70" fill="#ffe4e0" opacity="0.16"/>
<rect x="128.4" y="47" width="1" height="7.3" fill="#a0b060" opacity="0.22"/>
<rect x="129.4" y="50.5" width="1.3" height="70" fill="#ffe4e0" opacity="0.25"/>
<rect x="130.7" y="47" width="1.2" height="51.1" fill="#e04038" opacity="0.22"/>
<rect x="132.6" y="49.9" width="1.3" height="70" fill="#ffe4e0" opacity="0.30"/>
<rect x="133.9" y="47" width="1.2" height="40.7" fill="#e04038" opacity="0.23"/>
<rect x="134.4" y="47" width="1" height="5.2" fill="#a0b060" opacity="0.18"/>
<rect x="136.2" y="55.9" width="1.3" height="70" fill="#ffe4e0" opacity="0.22"/>
<rect x="137.5" y="47" width="1.2" height="25.4" fill="#e04038" opacity="0.26"/>
<rect x="139.4" y="52.5" width="1.3" height="70" fill="#ffe4e0" opacity="0.14"/>
<rect x="141.2" y="47" width="1" height="9.2" fill="#a0b060" opacity="0.24"/>
<rect x="143.0" y="52.0" width="1.3" height="70" fill="#ffe4e0" opacity="0.32"/>
<rect x="144.3" y="47" width="1.2" height="38.9" fill="#e04038" opacity="0.17"/>
<rect x="144.8" y="47" width="1" height="12.6" fill="#a0b060" opacity="0.21"/>
<rect x="146.6" y="51.9" width="1.3" height="70" fill="#ffe4e0" opacity="0.14"/>
<rect x="147.9" y="47" width="1.2" height="55.5" fill="#e04038" opacity="0.27"/>
<rect x="149.8" y="57.9" width="1.3" height="70" fill="#ffe4e0" opacity="0.26"/>
<rect x="151.1" y="47" width="1.2" height="46.0" fill="#e04038" opacity="0.12"/>
<rect x="152.2" y="53.9" width="1.3" height="70" fill="#ffe4e0" opacity="0.25"/>
<rect x="153.5" y="47" width="1.2" height="19.6" fill="#e04038" opacity="0.29"/>
<rect x="154.0" y="47" width="1" height="9.3" fill="#a0b060" opacity="0.14"/>
<rect x="154.6" y="58.2" width="1.3" height="70" fill="#ffe4e0" opacity="0.12"/>
<rect x="158.2" y="53.1" width="1.3" height="70" fill="#ffe4e0" opacity="0.27"/>
<rect x="159.5" y="47" width="1.2" height="26.2" fill="#e04038" opacity="0.19"/>
<rect x="160.0" y="47" width="1" height="9.6" fill="#a0b060" opacity="0.15"/>
<rect x="161.4" y="53.5" width="1.3" height="70" fill="#ffe4e0" opacity="0.24"/>
<rect x="162.7" y="47" width="1.2" height="29.1" fill="#e04038" opacity="0.12"/>
<rect x="163.2" y="47" width="1" height="19.6" fill="#a0b060" opacity="0.23"/>
<rect x="164.2" y="53.1" width="1.3" height="70" fill="#ffe4e0" opacity="0.28"/>
<rect x="165.5" y="47" width="1.2" height="9.0" fill="#e04038" opacity="0.29"/>
<rect x="167.4" y="54.6" width="1.3" height="70" fill="#ffe4e0" opacity="0.26"/>
<rect x="168.7" y="47" width="1.2" height="10.7" fill="#e04038" opacity="0.29"/>
<rect x="170.6" y="51.7" width="1.3" height="70" fill="#ffe4e0" opacity="0.18"/>
<rect x="171.9" y="47" width="1.2" height="49.8" fill="#e04038" opacity="0.30"/>
<rect x="173.8" y="48.6" width="1.3" height="70" fill="#ffe4e0" opacity="0.32"/>
<rect x="175.1" y="47" width="1.2" height="56.6" fill="#e04038" opacity="0.29"/>
<rect x="175.6" y="47" width="1" height="15.8" fill="#a0b060" opacity="0.20"/>
<rect x="176.8" y="50.1" width="1.3" height="70" fill="#ffe4e0" opacity="0.15"/>
<rect x="178.1" y="47" width="1.2" height="42.8" fill="#e04038" opacity="0.14"/>
<rect x="178.6" y="47" width="1" height="11.7" fill="#a0b060" opacity="0.20"/>
<rect x="180.0" y="56.9" width="1.3" height="70" fill="#ffe4e0" opacity="0.27"/>
<rect x="182.4" y="54.8" width="1.3" height="70" fill="#ffe4e0" opacity="0.33"/>
<rect x="186.0" y="48.4" width="1.3" height="70" fill="#ffe4e0" opacity="0.31"/>
<rect x="187.3" y="47" width="1.2" height="8.7" fill="#e04038" opacity="0.12"/>
<rect x="187.8" y="47" width="1" height="6.9" fill="#a0b060" opacity="0.13"/>
<rect x="189.0" y="49.3" width="1.3" height="70" fill="#ffe4e0" opacity="0.28"/>
<rect x="190.3" y="47" width="1.2" height="34.7" fill="#e04038" opacity="0.29"/>
<rect x="192.2" y="58.3" width="1.3" height="70" fill="#ffe4e0" opacity="0.26"/>
<rect x="193.5" y="47" width="1.2" height="54.0" fill="#e04038" opacity="0.20"/>
<rect x="195.8" y="50.7" width="1.3" height="70" fill="#ffe4e0" opacity="0.19"/>
<rect x="197.1" y="47" width="1.2" height="51.7" fill="#e04038" opacity="0.21"/>
<rect x="199.4" y="52.3" width="1.3" height="70" fill="#ffe4e0" opacity="0.17"/>
<rect x="200.7" y="47" width="1.2" height="54.4" fill="#e04038" opacity="0.17"/>
<rect x="202.6" y="51.4" width="1.3" height="70" fill="#ffe4e0" opacity="0.23"/>
<rect x="203.9" y="47" width="1.2" height="34.6" fill="#e04038" opacity="0.14"/>
<rect x="206.2" y="58.2" width="1.3" height="70" fill="#ffe4e0" opacity="0.22"/>
<rect x="207.5" y="47" width="1.2" height="24.8" fill="#e04038" opacity="0.29"/>
<rect x="209.2" y="58.9" width="1.3" height="70" fill="#ffe4e0" opacity="0.19"/>
<rect x="210.5" y="47" width="1.2" height="16.2" fill="#e04038" opacity="0.25"/>
<rect x="211.0" y="47" width="1" height="12.5" fill="#a0b060" opacity="0.28"/>
<rect x="211.6" y="57.2" width="1.3" height="70" fill="#ffe4e0" opacity="0.24"/>
<rect x="212.9" y="47" width="1.2" height="35.1" fill="#e04038" opacity="0.25"/>
<rect x="214.4" y="55.4" width="1.3" height="70" fill="#ffe4e0" opacity="0.22"/>
<rect x="215.7" y="47" width="1.2" height="39.8" fill="#e04038" opacity="0.14"/>
<rect x="218.0" y="57.4" width="1.3" height="70" fill="#ffe4e0" opacity="0.14"/>
<rect x="221.0" y="55.8" width="1.3" height="70" fill="#ffe4e0" opacity="0.31"/>
<rect x="222.8" y="47" width="1" height="5.1" fill="#a0b060" opacity="0.28"/>
<rect x="224.6" y="53.5" width="1.3" height="70" fill="#ffe4e0" opacity="0.26"/>
<rect x="227.8" y="51.1" width="1.3" height="70" fill="#ffe4e0" opacity="0.32"/>
<rect x="229.6" y="47" width="1" height="16.8" fill="#a0b060" opacity="0.27"/>
<rect x="230.8" y="51.2" width="1.3" height="70" fill="#ffe4e0" opacity="0.29"/>
<rect x="232.1" y="47" width="1.2" height="28.0" fill="#e04038" opacity="0.21"/>
<rect x="234.0" y="51.3" width="1.3" height="70" fill="#ffe4e0" opacity="0.21"/>
<rect x="235.3" y="47" width="1.2" height="30.7" fill="#e04038" opacity="0.26"/>
<rect x="236.8" y="58.1" width="1.3" height="70" fill="#ffe4e0" opacity="0.14"/>
<rect x="238.1" y="47" width="1.2" height="51.6" fill="#e04038" opacity="0.27"/>
<rect x="239.6" y="57.8" width="1.3" height="70" fill="#ffe4e0" opacity="0.35"/>
<rect x="241.4" y="47" width="1" height="20.2" fill="#a0b060" opacity="0.17"/>
<rect x="242.6" y="56.5" width="1.3" height="70" fill="#ffe4e0" opacity="0.34"/>
<rect x="243.9" y="47" width="1.2" height="34.9" fill="#e04038" opacity="0.30"/>
<rect x="245.8" y="51.9" width="1.3" height="70" fill="#ffe4e0" opacity="0.21"/>
<rect x="247.1" y="47" width="1.2" height="57.3" fill="#e04038" opacity="0.17"/>
<rect x="249.4" y="52.5" width="1.3" height="70" fill="#ffe4e0" opacity="0.18"/>
<rect x="250.7" y="47" width="1.2" height="56.3" fill="#e04038" opacity="0.23"/>
<rect x="251.2" y="47" width="1" height="12.2" fill="#a0b060" opacity="0.15"/>
<rect x="252.6" y="54.9" width="1.3" height="70" fill="#ffe4e0" opacity="0.23"/>
<rect x="256.2" y="49.0" width="1.3" height="70" fill="#ffe4e0" opacity="0.30"/>
<rect x="257.5" y="47" width="1.2" height="11.9" fill="#e04038" opacity="0.17"/>
<rect x="259.0" y="57.8" width="1.3" height="70" fill="#ffe4e0" opacity="0.15"/>
<rect x="262.6" y="52.6" width="1.3" height="70" fill="#ffe4e0" opacity="0.33"/>
<rect x="263.9" y="47" width="1.2" height="34.6" fill="#e04038" opacity="0.16"/>
<rect x="265.4" y="48.7" width="1.3" height="70" fill="#ffe4e0" opacity="0.22"/>
<rect x="266.7" y="47" width="1.2" height="37.6" fill="#e04038" opacity="0.12"/>
<rect x="267.8" y="48.1" width="1.3" height="70" fill="#ffe4e0" opacity="0.29"/>
<rect x="269.1" y="47" width="1.2" height="36.8" fill="#e04038" opacity="0.24"/>
<rect x="271.0" y="54.4" width="1.3" height="70" fill="#ffe4e0" opacity="0.32"/>
<rect x="272.8" y="47" width="1" height="14.4" fill="#a0b060" opacity="0.21"/>
<rect x="274.0" y="57.9" width="1.3" height="70" fill="#ffe4e0" opacity="0.33"/>
<rect x="275.3" y="47" width="1.2" height="18.3" fill="#e04038" opacity="0.13"/>
<rect x="276.8" y="56.4" width="1.3" height="70" fill="#ffe4e0" opacity="0.16"/>
<rect x="278.1" y="47" width="1.2" height="16.9" fill="#e04038" opacity="0.12"/>
<rect x="280.0" y="56.9" width="1.3" height="70" fill="#ffe4e0" opacity="0.27"/>
<rect x="281.3" y="47" width="1.2" height="48.1" fill="#e04038" opacity="0.10"/>
<rect x="282.8" y="49.9" width="1.3" height="70" fill="#ffe4e0" opacity="0.20"/>
<rect x="284.1" y="47" width="1.2" height="55.0" fill="#e04038" opacity="0.12"/>
<rect x="285.8" y="54.9" width="1.3" height="70" fill="#ffe4e0" opacity="0.17"/>
<rect x="287.1" y="47" width="1.2" height="28.6" fill="#e04038" opacity="0.14"/>
<rect x="288.2" y="54.8" width="1.3" height="70" fill="#ffe4e0" opacity="0.23"/>
<rect x="289.5" y="47" width="1.2" height="56.4" fill="#e04038" opacity="0.11"/>
<rect x="291.2" y="57.5" width="1.3" height="70" fill="#ffe4e0" opacity="0.12"/>
<rect x="292.5" y="47" width="1.2" height="21.1" fill="#e04038" opacity="0.18"/>
<rect x="293.6" y="52.3" width="1.3" height="70" fill="#ffe4e0" opacity="0.18"/>
<rect x="295.4" y="47" width="1" height="19.9" fill="#a0b060" opacity="0.18"/>
<rect x="296.8" y="57.6" width="1.3" height="70" fill="#ffe4e0" opacity="0.13"/>
<rect x="298.1" y="47" width="1.2" height="27.7" fill="#e04038" opacity="0.13"/>
<rect x="298.6" y="47" width="1" height="11.7" fill="#a0b060" opacity="0.28"/>
<rect x="299.8" y="53.9" width="1.3" height="70" fill="#ffe4e0" opacity="0.15"/>
<rect x="301.1" y="47" width="1.2" height="11.4" fill="#e04038" opacity="0.18"/>
<rect x="301.6" y="47" width="1" height="11.0" fill="#a0b060" opacity="0.27"/>
<rect x="302.6" y="53.1" width="1.3" height="70" fill="#ffe4e0" opacity="0.21"/>
<rect x="303.9" y="47" width="1.2" height="22.5" fill="#e04038" opacity="0.19"/>
<rect x="304.4" y="47" width="1" height="9.1" fill="#a0b060" opacity="0.26"/>
<rect x="305.4" y="51.0" width="1.3" height="70" fill="#ffe4e0" opacity="0.14"/>
<rect x="307.2" y="47" width="1" height="19.2" fill="#a0b060" opacity="0.20"/>
<rect x="308.2" y="51.9" width="1.3" height="70" fill="#ffe4e0" opacity="0.16"/>
<rect x="311.8" y="58.5" width="1.3" height="70" fill="#ffe4e0" opacity="0.17"/>
<rect x="313.1" y="47" width="1.2" height="31.5" fill="#e04038" opacity="0.15"/>
<rect x="313.6" y="47" width="1" height="9.4" fill="#a0b060" opacity="0.25"/>
<rect x="315.0" y="52.0" width="1.3" height="70" fill="#ffe4e0" opacity="0.26"/>
<rect x="316.3" y="47" width="1.2" height="19.1" fill="#e04038" opacity="0.22"/>
<rect x="317.4" y="49.0" width="1.3" height="70" fill="#ffe4e0" opacity="0.28"/>
<rect x="320.6" y="55.9" width="1.3" height="70" fill="#ffe4e0" opacity="0.13"/>
<rect x="321.9" y="47" width="1.2" height="45.0" fill="#e04038" opacity="0.10"/>
<rect x="323.4" y="55.3" width="1.3" height="70" fill="#ffe4e0" opacity="0.20"/>
<rect x="324.7" y="47" width="1.2" height="26.8" fill="#e04038" opacity="0.21"/>
<rect x="326.4" y="55.9" width="1.3" height="70" fill="#ffe4e0" opacity="0.17"/>
<rect x="327.7" y="47" width="1.2" height="50.5" fill="#e04038" opacity="0.16"/>
<rect x="329.4" y="58.0" width="1.3" height="70" fill="#ffe4e0" opacity="0.22"/>
<rect x="332.2" y="49.9" width="1.3" height="70" fill="#ffe4e0" opacity="0.34"/>
<rect x="333.5" y="47" width="1.2" height="43.9" fill="#e04038" opacity="0.26"/>
<rect x="334.6" y="55.7" width="1.3" height="70" fill="#ffe4e0" opacity="0.28"/>
<rect x="335.9" y="47" width="1.2" height="26.3" fill="#e04038" opacity="0.27"/>
<rect x="337.4" y="51.0" width="1.3" height="70" fill="#ffe4e0" opacity="0.19"/>
<rect x="339.2" y="47" width="1" height="11.9" fill="#a0b060" opacity="0.24"/>
<rect x="341.0" y="50.2" width="1.3" height="70" fill="#ffe4e0" opacity="0.16"/>
<rect x="342.3" y="47" width="1.2" height="10.0" fill="#e04038" opacity="0.18"/>
<rect x="343.8" y="50.5" width="1.3" height="70" fill="#ffe4e0" opacity="0.26"/>
<rect x="345.1" y="47" width="1.2" height="56.1" fill="#e04038" opacity="0.20"/>
<rect x="347.4" y="48.0" width="1.3" height="70" fill="#ffe4e0" opacity="0.20"/>
<rect x="350.4" y="57.6" width="1.3" height="70" fill="#ffe4e0" opacity="0.34"/>
<rect x="351.7" y="47" width="1.2" height="58.7" fill="#e04038" opacity="0.24"/>
<rect x="352.8" y="50.3" width="1.3" height="70" fill="#ffe4e0" opacity="0.31"/>
<rect x="355.2" y="56.2" width="1.3" height="70" fill="#ffe4e0" opacity="0.22"/>
<rect x="358.0" y="49.0" width="1.3" height="70" fill="#ffe4e0" opacity="0.19"/>
<rect x="361.0" y="56.1" width="1.3" height="70" fill="#ffe4e0" opacity="0.29"/>
<rect x="364.2" y="55.4" width="1.3" height="70" fill="#ffe4e0" opacity="0.24"/>
<rect x="365.5" y="47" width="1.2" height="52.0" fill="#e04038" opacity="0.23"/>
<rect x="367.4" y="48.5" width="1.3" height="70" fill="#ffe4e0" opacity="0.30"/>
<rect x="370.4" y="49.8" width="1.3" height="70" fill="#ffe4e0" opacity="0.16"/>
<rect x="372.2" y="47" width="1" height="21.4" fill="#a0b060" opacity="0.17"/>
<rect x="373.2" y="52.5" width="1.3" height="70" fill="#ffe4e0" opacity="0.21"/>
<rect x="374.5" y="47" width="1.2" height="15.1" fill="#e04038" opacity="0.16"/>
<rect x="376.4" y="50.7" width="1.3" height="70" fill="#ffe4e0" opacity="0.18"/>
<rect x="377.7" y="47" width="1.2" height="56.7" fill="#e04038" opacity="0.19"/>
<rect x="379.4" y="55.8" width="1.3" height="70" fill="#ffe4e0" opacity="0.15"/>
<rect x="380.7" y="47" width="1.2" height="40.7" fill="#e04038" opacity="0.15"/>
<rect x="381.2" y="47" width="1" height="21.0" fill="#a0b060" opacity="0.20"/>
<rect x="382.2" y="53.1" width="1.3" height="70" fill="#ffe4e0" opacity="0.26"/>
<rect x="384.6" y="48.1" width="1.3" height="70" fill="#ffe4e0" opacity="0.29"/>
<rect x="385.9" y="47" width="1.2" height="54.6" fill="#e04038" opacity="0.11"/>
<rect x="387.0" y="52.9" width="1.3" height="70" fill="#ffe4e0" opacity="0.29"/>
<rect x="388.3" y="47" width="1.2" height="32.4" fill="#e04038" opacity="0.16"/>
<rect x="389.8" y="48.5" width="1.3" height="70" fill="#ffe4e0" opacity="0.25"/>
<rect x="391.1" y="47" width="1.2" height="33.2" fill="#e04038" opacity="0.30"/>
<rect x="392.8" y="54.2" width="1.3" height="70" fill="#ffe4e0" opacity="0.36"/>
<rect x="394.1" y="47" width="1.2" height="30.6" fill="#e04038" opacity="0.20"/>
<rect x="394.6" y="47" width="1" height="5.1" fill="#a0b060" opacity="0.22"/>
<rect x="395.2" y="54.9" width="1.3" height="70" fill="#ffe4e0" opacity="0.27"/>
<rect x="398.2" y="48.9" width="1.3" height="70" fill="#ffe4e0" opacity="0.28"/>
<rect x="400.0" y="47" width="1" height="7.5" fill="#a0b060" opacity="0.19"/>
<rect x="401.2" y="55.0" width="1.3" height="70" fill="#ffe4e0" opacity="0.16"/>
<rect x="404.0" y="55.9" width="1.3" height="70" fill="#ffe4e0" opacity="0.14"/>
<rect x="405.3" y="47" width="1.2" height="27.7" fill="#e04038" opacity="0.22"/>
<rect x="407.0" y="52.1" width="1.3" height="70" fill="#ffe4e0" opacity="0.20"/>
<rect x="408.3" y="47" width="1.2" height="51.2" fill="#e04038" opacity="0.17"/>
<rect x="408.8" y="47" width="1" height="14.6" fill="#a0b060" opacity="0.13"/>
<rect x="410.2" y="58.4" width="1.3" height="70" fill="#ffe4e0" opacity="0.34"/>
<rect x="411.5" y="47" width="1.2" height="16.2" fill="#e04038" opacity="0.20"/>
<rect x="413.8" y="49.6" width="1.3" height="70" fill="#ffe4e0" opacity="0.27"/>
<rect x="415.1" y="47" width="1.2" height="41.1" fill="#e04038" opacity="0.13"/>
<rect x="416.2" y="53.3" width="1.3" height="70" fill="#ffe4e0" opacity="0.32"/>
<rect x="417.5" y="47" width="1.2" height="9.7" fill="#e04038" opacity="0.17"/>
<rect x="419.8" y="51.1" width="1.3" height="70" fill="#ffe4e0" opacity="0.22"/>
<rect x="423.0" y="48.7" width="1.3" height="70" fill="#ffe4e0" opacity="0.33"/>
<rect x="424.3" y="47" width="1.2" height="17.2" fill="#e04038" opacity="0.29"/>
<rect x="426.2" y="52.9" width="1.3" height="70" fill="#ffe4e0" opacity="0.19"/>
<rect x="427.5" y="47" width="1.2" height="18.2" fill="#e04038" opacity="0.17"/>
<rect x="428.0" y="47" width="1" height="12.8" fill="#a0b060" opacity="0.18"/>
<rect x="429.8" y="57.5" width="1.3" height="70" fill="#ffe4e0" opacity="0.34"/>
<rect x="433.4" y="56.9" width="1.3" height="70" fill="#ffe4e0" opacity="0.14"/>
<rect x="436.4" y="52.6" width="1.3" height="70" fill="#ffe4e0" opacity="0.26"/>
<rect x="437.7" y="47" width="1.2" height="15.1" fill="#e04038" opacity="0.23"/>
<rect x="440.0" y="48.3" width="1.3" height="70" fill="#ffe4e0" opacity="0.33"/>
<rect x="441.3" y="47" width="1.2" height="31.3" fill="#e04038" opacity="0.24"/>
<rect x="441.8" y="47" width="1" height="11.3" fill="#a0b060" opacity="0.24"/>
<rect x="443.6" y="52.0" width="1.3" height="70" fill="#ffe4e0" opacity="0.35"/>
<rect x="444.9" y="47" width="1.2" height="21.6" fill="#e04038" opacity="0.19"/>
<rect x="445.4" y="47" width="1" height="8.4" fill="#a0b060" opacity="0.29"/>
<rect x="446.0" y="57.2" width="1.3" height="70" fill="#ffe4e0" opacity="0.17"/>
<rect x="447.8" y="47" width="1" height="17.1" fill="#a0b060" opacity="0.24"/>
</g></g>
<rect x="72.25" y="46.5" width="373.55" height="1" fill="#dc7850" opacity="0.65"/>
<rect x="201.55" y="11.25" width="1.5" height="287.2" fill="#1e1e1e"/>
<rect x="211.45" y="11.25" width="1.5" height="287.2" fill="#1e1e1e"/>
<rect x="223.40" y="11.25" width="1.5" height="287.2" fill="#1e1e1e"/>
<rect x="274.65" y="11.25" width="1.5" height="287.2" fill="#1e1e1e"/>
<rect x="318.05" y="11.25" width="1.5" height="287.2" fill="#1e1e1e"/>
<rect x="50.4" y="11.25" width="412.6" height="287.25" fill="none" stroke="#1c1c1c" stroke-width="1.3"/>
<path d="M74.30 298.5 v-3.8 M74.30 11.25 v3.8 M98.59 298.5 v-2.0 M98.59 11.25 v2.0 M122.89 298.5 v-2.0 M122.89 11.25 v2.0 M147.18 298.5 v-2.0 M147.18 11.25 v2.0 M171.47 298.5 v-2.0 M171.47 11.25 v2.0 M195.76 298.5 v-3.8 M195.76 11.25 v3.8 M220.06 298.5 v-2.0 M220.06 11.25 v2.0 M244.35 298.5 v-2.0 M244.35 11.25 v2.0 M268.64 298.5 v-2.0 M268.64 11.25 v2.0 M292.94 298.5 v-2.0 M292.94 11.25 v2.0 M317.23 298.5 v-3.8 M317.23 11.25 v3.8 M341.52 298.5 v-2.0 M341.52 11.25 v2.0 M365.82 298.5 v-2.0 M365.82 11.25 v2.0 M390.11 298.5 v-2.0 M390.11 11.25 v2.0 M414.40 298.5 v-2.0 M414.40 11.25 v2.0 M438.69 298.5 v-3.8 M438.69 11.25 v3.8 M50.4 298.50 h4.2 M463.0 298.50 h-4.2 M50.4 291.32 h2.2 M463.0 291.32 h-2.2 M50.4 284.14 h2.2 M463.0 284.14 h-2.2 M50.4 276.96 h2.2 M463.0 276.96 h-2.2 M50.4 269.77 h2.2 M463.0 269.77 h-2.2 M50.4 262.59 h4.2 M463.0 262.59 h-4.2 M50.4 255.41 h2.2 M463.0 255.41 h-2.2 M50.4 248.23 h2.2 M463.0 248.23 h-2.2 M50.4 241.05 h2.2 M463.0 241.05 h-2.2 M50.4 233.87 h2.2 M463.0 233.87 h-2.2 M50.4 226.69 h4.2 M463.0 226.69 h-4.2 M50.4 219.51 h2.2 M463.0 219.51 h-2.2 M50.4 212.33 h2.2 M463.0 212.33 h-2.2 M50.4 205.14 h2.2 M463.0 205.14 h-2.2 M50.4 197.96 h2.2 M463.0 197.96 h-2.2 M50.4 190.78 h4.2 M463.0 190.78 h-4.2 M50.4 183.60 h2.2 M463.0 183.60 h-2.2 M50.4 176.42 h2.2 M463.0 176.42 h-2.2 M50.4 169.24 h2.2 M463.0 169.24 h-2.2 M50.4 162.06 h2.2 M463.0 162.06 h-2.2 M50.4 154.87 h4.2 M463.0 154.87 h-4.2 M50.4 147.69 h2.2 M463.0 147.69 h-2.2 M50.4 140.51 h2.2 M463.0 140.51 h-2.2 M50.4 133.33 h2.2 M463.0 133.33 h-2.2 M50.4 126.15 h2.2 M463.0 126.15 h-2.2 M50.4 118.97 h4.2 M463.0 118.97 h-4.2 M50.4 111.79 h2.2 M463.0 111.79 h-2.2 M50.4 104.61 h2.2 M463.0 104.61 h-2.2 M50.4 97.42 h2.2 M463.0 97.42 h-2.2 M50.4 90.24 h2.2 M463.0 90.24 h-2.2 M50.4 83.06 h4.2 M463.0 83.06 h-4.2 M50.4 75.88 h2.2 M463.0 75.88 h-2.2 M50.4 68.70 h2.2 M463.0 68.70 h-2.2 M50.4 61.52 h2.2 M463.0 61.52 h-2.2 M50.4 54.34 h2.2 M463.0 54.34 h-2.2 M50.4 47.16 h4.2 M463.0 47.16 h-4.2 M50.4 39.98 h2.2 M463.0 39.98 h-2.2 M50.4 32.79 h2.2 M463.0 32.79 h-2.2 M50.4 25.61 h2.2 M463.0 25.61 h-2.2 M50.4 18.43 h2.2 M463.0 18.43 h-2.2 M50.4 11.25 h4.2 M463.0 11.25 h-4.2" stroke="#222" stroke-width="0.9" fill="none"/>
<g opacity="0.999">
<text x="74.30" y="312.7" font-family="Liberation Sans, sans-serif" font-size="13" text-anchor="middle" fill="#1a1a1a" stroke="#1a1a1a" stroke-width="0.22">2100</text>
<text x="195.76" y="312.7" font-family="Liberation Sans, sans-serif" font-size="13" text-anchor="middle" fill="#1a1a1a" stroke="#1a1a1a" stroke-width="0.22">2150</text>
<text x="317.23" y="312.7" font-family="Liberation Sans, sans-serif" font-size="13" text-anchor="middle" fill="#1a1a1a" stroke="#1a1a1a" stroke-width="0.22">2200</text>
<text x="438.69" y="312.7" font-family="Liberation Sans, sans-serif" font-size="13" text-anchor="middle" fill="#1a1a1a" stroke="#1a1a1a" stroke-width="0.22">2250</text>
<text x="44.6" y="303.10" font-family="Liberation Sans, sans-serif" font-size="13" text-anchor="end" fill="#1a1a1a" stroke="#1a1a1a" stroke-width="0.22">0.65</text>
<text x="44.6" y="267.19" font-family="Liberation Sans, sans-serif" font-size="13" text-anchor="end" fill="#1a1a1a" stroke="#1a1a1a" stroke-width="0.22">0.70</text>
<text x="44.6" y="231.29" font-family="Liberation Sans, sans-serif" font-size="13" text-anchor="end" fill="#1a1a1a" stroke="#1a1a1a" stroke-width="0.22">0.75</text>
<text x="44.6" y="195.38" font-family="Liberation Sans, sans-serif" font-size="13" text-anchor="end" fill="#1a1a1a" stroke="#1a1a1a" stroke-width="0.22">0.80</text>
<text x="44.6" y="159.47" font-family="Liberation Sans, sans-serif" font-size="13" text-anchor="end" fill="#1a1a1a" stroke="#1a1a1a" stroke-width="0.22">0.85</text>
<text x="44.6" y="123.57" font-family="Liberation Sans, sans-serif" font-size="13" text-anchor="end" fill="#1a1a1a" stroke="#1a1a1a" stroke-width="0.22">0.90</text>
<text x="44.6" y="87.66" font-family="Liberation Sans, sans-serif" font-size="13" text-anchor="end" fill="#1a1a1a" stroke="#1a1a1a" stroke-width="0.22">0.95</text>
<text x="44.6" y="51.76" font-family="Liberation Sans, sans-serif" font-size="13" text-anchor="end" fill="#1a1a1a" stroke="#1a1a1a" stroke-width="0.22">1.00</text>
<text x="44.6" y="15.85" font-family="Liberation Sans, sans-serif" font-size="13" text-anchor="end" fill="#1a1a1a" stroke="#1a1a1a" stroke-width="0.22">1.05</text>
<text x="257" y="329" font-family="Liberation Serif, serif" font-size="20" text-anchor="middle" fill="#111">Time from 2009 January 1 (days)</text>
<text transform="translate(17.4,154.6) rotate(-90)" font-family="Liberation Serif, serif" font-size="19.85" text-anchor="middle" fill="#111">Normalized Flux</text>
<text x="419.5" y="22.90" font-family="Liberation Sans, sans-serif" font-size="9" text-anchor="end" fill="#222">long</text>
<rect x="425" y="19.35" width="26.7" height="0.9" fill="#d9ecf5"/>
<text x="419.5" y="32.25" font-family="Liberation Sans, sans-serif" font-size="9" text-anchor="end" fill="#222">middle</text>
<rect x="425" y="28.70" width="26.7" height="0.9" fill="#b4eeb4"/>
<text x="419.5" y="41.60" font-family="Liberation Sans, sans-serif" font-size="9" text-anchor="end" fill="#222">short</text>
<rect x="425" y="38.05" width="26.7" height="0.9" fill="#f29a9a"/>
</g>
</svg>
</body></html>
